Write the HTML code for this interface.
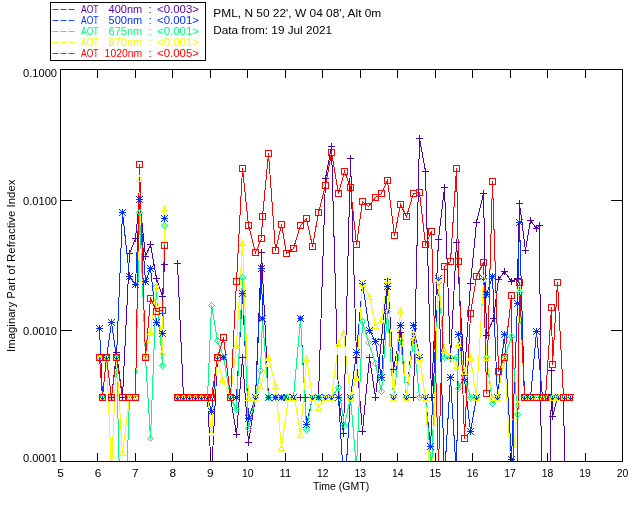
<!DOCTYPE html>
<html><head><meta charset="utf-8"><title>PML Imaginary Refractive Index</title>
<style>
html,body{margin:0;padding:0;background:#fff;width:640px;height:512px;overflow:hidden}
svg{display:block}
text{font-family:'Liberation Sans',Arial,sans-serif;fill:#000}
</style></head><body>
<svg width="640" height="512" viewBox="0 0 640 512" shape-rendering="crispEdges">
<rect width="640" height="512" fill="#fff"/>
<defs><clipPath id="pc"><rect x="60" y="69" width="563" height="393"/></clipPath></defs>

<rect x="50.5" y="2.5" width="155" height="58" fill="none" stroke="#000"/>
<text x="51.5" y="12" font-size="11.5" textLength="24" lengthAdjust="spacingAndGlyphs" style="fill:#5500a0">---</text>
<g style="fill:#5500a0" font-size="11.5"><text x="81" y="13" textLength="17.6" lengthAdjust="spacingAndGlyphs" style="fill:#5500a0">AOT</text><text x="108.6" y="13" textLength="33.6" lengthAdjust="spacingAndGlyphs" style="fill:#5500a0">400nm</text><text x="148.5" y="13" style="fill:#5500a0">:</text><text x="157" y="13" textLength="42" lengthAdjust="spacingAndGlyphs" style="fill:#5500a0">&lt;0.003&gt;</text></g>
<text x="51.5" y="23" font-size="11.5" textLength="24" lengthAdjust="spacingAndGlyphs" style="fill:#0030ff">---</text>
<g style="fill:#0030ff" font-size="11.5"><text x="81" y="24" textLength="17.6" lengthAdjust="spacingAndGlyphs" style="fill:#0030ff">AOT</text><text x="108.6" y="24" textLength="33.6" lengthAdjust="spacingAndGlyphs" style="fill:#0030ff">500nm</text><text x="148.5" y="24" style="fill:#0030ff">:</text><text x="157" y="24" textLength="42" lengthAdjust="spacingAndGlyphs" style="fill:#0030ff">&lt;0.001&gt;</text></g>
<text x="51.5" y="34" font-size="11.5" textLength="24" lengthAdjust="spacingAndGlyphs" style="fill:#00ff80">---</text>
<g style="fill:#00ff80" font-size="11.5"><text x="81" y="35" textLength="17.6" lengthAdjust="spacingAndGlyphs" style="fill:#00ff80">AOT</text><text x="108.6" y="35" textLength="33.6" lengthAdjust="spacingAndGlyphs" style="fill:#00ff80">675nm</text><text x="148.5" y="35" style="fill:#00ff80">:</text><text x="157" y="35" textLength="42" lengthAdjust="spacingAndGlyphs" style="fill:#00ff80">&lt;0.001&gt;</text></g>
<text x="51.5" y="45" font-size="11.5" textLength="24" lengthAdjust="spacingAndGlyphs" style="fill:#f5ff00">---</text>
<g style="fill:#f5ff00" font-size="11.5"><text x="81" y="46" textLength="17.6" lengthAdjust="spacingAndGlyphs" style="fill:#f5ff00">AOT</text><text x="108.6" y="46" textLength="33.6" lengthAdjust="spacingAndGlyphs" style="fill:#f5ff00">870nm</text><text x="148.5" y="46" style="fill:#f5ff00">:</text><text x="157" y="46" textLength="42" lengthAdjust="spacingAndGlyphs" style="fill:#f5ff00">&lt;0.001&gt;</text></g>
<text x="51.5" y="56" font-size="11.5" textLength="24" lengthAdjust="spacingAndGlyphs" style="fill:#ff0000">---</text>
<g style="fill:#ff0000" font-size="11.5"><text x="81" y="57" textLength="17.6" lengthAdjust="spacingAndGlyphs" style="fill:#ff0000">AOT</text><text x="104.6" y="57" textLength="37.6" lengthAdjust="spacingAndGlyphs" style="fill:#ff0000">1020nm</text><text x="148.5" y="57" style="fill:#ff0000">:</text><text x="157" y="57" textLength="42" lengthAdjust="spacingAndGlyphs" style="fill:#ff0000">&lt;0.005&gt;</text></g>
<text x="213.3" y="17" font-size="11.5" textLength="168" lengthAdjust="spacingAndGlyphs">PML, N 50 22', W 04 08', Alt 0m</text>
<text x="213.3" y="34" font-size="11.5" textLength="118.8" lengthAdjust="spacingAndGlyphs">Data from: 19 Jul 2021</text>
<g clip-path="url(#pc)" shape-rendering="crispEdges" stroke-width="1">
<path d="M111.5 397.5 L116.5 352.5 L122.5 397.5 L129.5 253.5 L135.5 238.5 L139.5 199.5 L145.5 256.5 L150.5 244.5 L156.5 278.5 L162.5 296.5 L164.5 264.5M177.5 263.5 L183.5 397.5 L189.5 397.5 L195.5 397.5 L201.5 397.5 L207.5 397.5 L211.5 475.5 L217.5 357.5 L223.5 357.5 L230.5 397.5 L236.5 434.5 L242.5 357.5 L248.5 442.5 L255.5 397.5 L261.5 252.5 L268.5 397.5 L275.5 397.5 L281.5 397.5 L286.5 397.5 L293.5 397.5 L300.5 397.5 L305.5 397.5 L312.5 397.5 L318.5 397.5 L325.5 178.5 L331.5 146.5 L338.5 397.5 L343.5 433.5 L350.5 158.5 L356.5 357.5 L362.5 431.5 L369.5 357.5 L375.5 397.5 L381.5 339.5 L387.5 279.5 L393.5 369.5 L400.5 332.5 L406.5 397.5 L413.5 397.5 L419.5 138.5 L425.5 171.5 L431.5 397.5 L438.5 239.5 L444.5 187.5 L450.5 358.5 L456.5 242.5 L464.5 375.5 L470.5 283.5 L476.5 222.5 L483.5 193.5 L486.5 335.5 L493.5 318.5 L498.5 279.5 L504.5 271.5 L511.5 281.5 L517.5 278.5 L519.5 203.5 L525.5 250.5 L530.5 220.5 L536.5 228.5 L539.5 225.5 L542.5 620.5 L548.5 620.5 L551.5 370.5 L552.5 416.5 L557.5 397.5 L563.5 397.5 L567.5 620.5" stroke="#5500a0" fill="none"/>
<path d="M99.5 328.5 L102.5 397.5 L106.5 357.5 L111.5 322.5 L116.5 357.5 L122.5 212.5 L129.5 276.5 L135.5 284.5 L139.5 199.5 L145.5 281.5 L150.5 268.5 L156.5 322.5 L162.5 333.5 L164.5 218.5M177.5 397.5 L183.5 397.5 L189.5 397.5 L195.5 397.5 L201.5 397.5 L207.5 397.5 L211.5 411.5 L217.5 357.5 L223.5 357.5 L230.5 397.5 L236.5 397.5 L242.5 293.5 L248.5 418.5 L255.5 397.5 L261.5 268.5 L262.5 318.5 L268.5 397.5 L275.5 397.5 L281.5 397.5 L286.5 397.5 L293.5 397.5 L300.5 318.5 L306.5 424.5 L312.5 397.5 L318.5 397.5 L325.5 397.5 L331.5 397.5 L338.5 397.5 L344.5 495.5 L350.5 397.5 L356.5 352.5 L362.5 283.5 L369.5 330.5 L375.5 341.5 L381.5 377.5 L387.5 286.5 L393.5 397.5 L400.5 325.5 L406.5 397.5 L413.5 325.5 L419.5 357.5 L425.5 397.5 L430.5 446.5 L438.5 278.5 L444.5 476.5 L450.5 377.5 L456.5 476.5 L458.5 334.5 L464.5 379.5 L470.5 431.5 L476.5 397.5 L483.5 278.5 L486.5 294.5 L492.5 276.5 L497.5 397.5 L504.5 334.5 L511.5 459.5 L517.5 303.5 L519.5 222.5 L524.5 397.5 L530.5 397.5 L536.5 331.5 L542.5 397.5 L547.5 397.5 L552.5 397.5 L558.5 397.5 L564.5 397.5 L570.5 397.5" stroke="#0030ff" fill="none"/>
<path d="M99.5 357.5 L102.5 397.5 L106.5 357.5 L111.5 397.5 L116.5 357.5 L122.5 600.5 L129.5 397.5 L135.5 397.5 L139.5 212.5 L145.5 357.5 L150.5 438.5 L156.5 286.5 L162.5 365.5 L164.5 225.5M177.5 397.5 L183.5 397.5 L189.5 397.5 L195.5 397.5 L201.5 397.5 L207.5 397.5 L211.5 305.5 L217.5 340.5 L223.5 357.5 L230.5 397.5 L236.5 409.5 L242.5 277.5 L248.5 428.5 L255.5 397.5 L260.5 370.5 L262.5 318.5 L268.5 397.5 L275.5 397.5 L281.5 397.5 L286.5 397.5 L293.5 397.5 L300.5 318.5 L306.5 429.5 L312.5 397.5 L318.5 397.5 L325.5 397.5 L331.5 397.5 L338.5 387.5 L344.5 425.5 L350.5 397.5 L356.5 468.5 L362.5 321.5 L368.5 342.5 L375.5 363.5 L381.5 391.5 L387.5 311.5 L393.5 397.5 L400.5 340.5 L406.5 397.5 L413.5 339.5 L419.5 397.5 L425.5 397.5 L431.5 470.5 L438.5 282.5 L444.5 357.5 L450.5 357.5 L456.5 357.5 L458.5 388.5 L464.5 376.5 L470.5 397.5 L476.5 397.5 L483.5 279.5 L486.5 357.5 L492.5 403.5 L497.5 397.5 L504.5 357.5 L511.5 336.5 L517.5 414.5 L519.5 292.5 L524.5 397.5 L530.5 397.5 L536.5 397.5 L542.5 397.5 L547.5 397.5 L552.5 397.5 L558.5 397.5 L564.5 397.5 L570.5 397.5" stroke="#00ff80" fill="none"/>
<path d="M99.5 357.5 L102.5 397.5 L106.5 357.5 L111.5 470.5 L116.5 357.5 L122.5 452.5 L129.5 397.5 L135.5 397.5 L139.5 178.5 L145.5 357.5 L150.5 331.5 L156.5 286.5 L162.5 352.5 L164.5 208.5M177.5 397.5 L183.5 397.5 L189.5 397.5 L195.5 397.5 L201.5 397.5 L207.5 397.5 L211.5 432.5 L217.5 357.5 L222.5 379.5 L230.5 397.5 L236.5 344.5 L242.5 242.5 L248.5 397.5 L255.5 397.5 L260.5 386.5 L268.5 357.5 L275.5 385.5 L281.5 447.5 L288.5 397.5 L294.5 397.5 L300.5 434.5 L306.5 358.5 L312.5 397.5 L318.5 407.5 L325.5 397.5 L331.5 397.5 L338.5 343.5 L343.5 332.5 L350.5 397.5 L356.5 377.5 L362.5 283.5 L369.5 296.5 L375.5 325.5 L381.5 319.5 L387.5 279.5 L393.5 397.5 L400.5 310.5 L406.5 397.5 L413.5 332.5 L419.5 357.5 L425.5 397.5 L431.5 507.5 L438.5 278.5 L444.5 349.5 L450.5 356.5 L456.5 365.5 L458.5 343.5 L464.5 371.5 L470.5 357.5 L476.5 397.5 L483.5 278.5 L486.5 357.5 L492.5 397.5 L497.5 397.5 L504.5 357.5 L511.5 480.5 L517.5 402.5 L519.5 288.5 L524.5 397.5 L530.5 397.5 L536.5 397.5 L542.5 397.5 L547.5 397.5 L552.5 397.5 L558.5 397.5 L564.5 397.5 L570.5 397.5" stroke="#f5ff00" fill="none"/>
<path d="M99.5 357.5 L102.5 397.5 L106.5 357.5 L111.5 397.5 L116.5 357.5 L122.5 397.5 L129.5 397.5 L135.5 397.5 L139.5 164.5 L145.5 357.5 L150.5 298.5 L156.5 311.5 L162.5 310.5 L164.5 245.5M177.5 397.5 L183.5 397.5 L189.5 397.5 L195.5 397.5 L201.5 397.5 L207.5 397.5 L211.5 397.5 L217.5 357.5 L223.5 337.5 L230.5 397.5 L236.5 281.5 L242.5 168.5 L248.5 225.5 L255.5 252.5 L261.5 238.5 L262.5 216.5 L268.5 153.5 L275.5 250.5 L281.5 224.5 L286.5 253.5 L293.5 248.5 L300.5 225.5 L306.5 218.5 L312.5 246.5 L318.5 212.5 L325.5 185.5 L331.5 152.5 L338.5 193.5 L344.5 171.5 L350.5 187.5 L356.5 244.5 L362.5 201.5 L368.5 206.5 L375.5 197.5 L381.5 193.5 L387.5 180.5 L394.5 235.5 L400.5 204.5 L406.5 216.5 L413.5 193.5 L419.5 192.5 L425.5 244.5 L431.5 231.5 L438.5 466.5 L444.5 266.5 L450.5 261.5 L456.5 168.5 L458.5 261.5 L464.5 438.5 L470.5 313.5 L476.5 276.5 L483.5 262.5 L486.5 393.5 L492.5 181.5 L498.5 371.5 L504.5 357.5 L511.5 295.5 L515.5 620.5 L519.5 282.5 L524.5 397.5 L530.5 397.5 L536.5 397.5 L542.5 397.5 L545.5 397.5 L551.5 307.5 L552.5 364.5 L557.5 282.5 L563.5 397.5 L569.5 397.5" stroke="#ff0000" fill="none"/>
<path d="M111 394h1v1h-1zM111 395h1v1h-1zM111 396h1v1h-1zM108 397h7v1h-7zM111 398h1v1h-1zM111 399h1v1h-1zM111 400h1v1h-1zM116 349h1v1h-1zM116 350h1v1h-1zM116 351h1v1h-1zM113 352h7v1h-7zM116 353h1v1h-1zM116 354h1v1h-1zM116 355h1v1h-1zM122 394h1v1h-1zM122 395h1v1h-1zM122 396h1v1h-1zM119 397h7v1h-7zM122 398h1v1h-1zM122 399h1v1h-1zM122 400h1v1h-1zM129 250h1v1h-1zM129 251h1v1h-1zM129 252h1v1h-1zM126 253h7v1h-7zM129 254h1v1h-1zM129 255h1v1h-1zM129 256h1v1h-1zM135 235h1v1h-1zM135 236h1v1h-1zM135 237h1v1h-1zM132 238h7v1h-7zM135 239h1v1h-1zM135 240h1v1h-1zM135 241h1v1h-1zM139 196h1v1h-1zM139 197h1v1h-1zM139 198h1v1h-1zM136 199h7v1h-7zM139 200h1v1h-1zM139 201h1v1h-1zM139 202h1v1h-1zM145 253h1v1h-1zM145 254h1v1h-1zM145 255h1v1h-1zM142 256h7v1h-7zM145 257h1v1h-1zM145 258h1v1h-1zM145 259h1v1h-1zM150 241h1v1h-1zM150 242h1v1h-1zM150 243h1v1h-1zM147 244h7v1h-7zM150 245h1v1h-1zM150 246h1v1h-1zM150 247h1v1h-1zM156 275h1v1h-1zM156 276h1v1h-1zM156 277h1v1h-1zM153 278h7v1h-7zM156 279h1v1h-1zM156 280h1v1h-1zM156 281h1v1h-1zM162 293h1v1h-1zM162 294h1v1h-1zM162 295h1v1h-1zM159 296h7v1h-7zM162 297h1v1h-1zM162 298h1v1h-1zM162 299h1v1h-1zM164 261h1v1h-1zM164 262h1v1h-1zM164 263h1v1h-1zM161 264h7v1h-7zM164 265h1v1h-1zM164 266h1v1h-1zM164 267h1v1h-1zM177 260h1v1h-1zM177 261h1v1h-1zM177 262h1v1h-1zM174 263h7v1h-7zM177 264h1v1h-1zM177 265h1v1h-1zM177 266h1v1h-1zM183 394h1v1h-1zM183 395h1v1h-1zM183 396h1v1h-1zM180 397h7v1h-7zM183 398h1v1h-1zM183 399h1v1h-1zM183 400h1v1h-1zM189 394h1v1h-1zM189 395h1v1h-1zM189 396h1v1h-1zM186 397h7v1h-7zM189 398h1v1h-1zM189 399h1v1h-1zM189 400h1v1h-1zM195 394h1v1h-1zM195 395h1v1h-1zM195 396h1v1h-1zM192 397h7v1h-7zM195 398h1v1h-1zM195 399h1v1h-1zM195 400h1v1h-1zM201 394h1v1h-1zM201 395h1v1h-1zM201 396h1v1h-1zM198 397h7v1h-7zM201 398h1v1h-1zM201 399h1v1h-1zM201 400h1v1h-1zM207 394h1v1h-1zM207 395h1v1h-1zM207 396h1v1h-1zM204 397h7v1h-7zM207 398h1v1h-1zM207 399h1v1h-1zM207 400h1v1h-1zM217 354h1v1h-1zM217 355h1v1h-1zM217 356h1v1h-1zM214 357h7v1h-7zM217 358h1v1h-1zM217 359h1v1h-1zM217 360h1v1h-1zM223 354h1v1h-1zM223 355h1v1h-1zM223 356h1v1h-1zM220 357h7v1h-7zM223 358h1v1h-1zM223 359h1v1h-1zM223 360h1v1h-1zM230 394h1v1h-1zM230 395h1v1h-1zM230 396h1v1h-1zM227 397h7v1h-7zM230 398h1v1h-1zM230 399h1v1h-1zM230 400h1v1h-1zM236 431h1v1h-1zM236 432h1v1h-1zM236 433h1v1h-1zM233 434h7v1h-7zM236 435h1v1h-1zM236 436h1v1h-1zM236 437h1v1h-1zM242 354h1v1h-1zM242 355h1v1h-1zM242 356h1v1h-1zM239 357h7v1h-7zM242 358h1v1h-1zM242 359h1v1h-1zM242 360h1v1h-1zM248 439h1v1h-1zM248 440h1v1h-1zM248 441h1v1h-1zM245 442h7v1h-7zM248 443h1v1h-1zM248 444h1v1h-1zM248 445h1v1h-1zM255 394h1v1h-1zM255 395h1v1h-1zM255 396h1v1h-1zM252 397h7v1h-7zM255 398h1v1h-1zM255 399h1v1h-1zM255 400h1v1h-1zM261 249h1v1h-1zM261 250h1v1h-1zM261 251h1v1h-1zM258 252h7v1h-7zM261 253h1v1h-1zM261 254h1v1h-1zM261 255h1v1h-1zM268 394h1v1h-1zM268 395h1v1h-1zM268 396h1v1h-1zM265 397h7v1h-7zM268 398h1v1h-1zM268 399h1v1h-1zM268 400h1v1h-1zM275 394h1v1h-1zM275 395h1v1h-1zM275 396h1v1h-1zM272 397h7v1h-7zM275 398h1v1h-1zM275 399h1v1h-1zM275 400h1v1h-1zM281 394h1v1h-1zM281 395h1v1h-1zM281 396h1v1h-1zM278 397h7v1h-7zM281 398h1v1h-1zM281 399h1v1h-1zM281 400h1v1h-1zM286 394h1v1h-1zM286 395h1v1h-1zM286 396h1v1h-1zM283 397h7v1h-7zM286 398h1v1h-1zM286 399h1v1h-1zM286 400h1v1h-1zM293 394h1v1h-1zM293 395h1v1h-1zM293 396h1v1h-1zM290 397h7v1h-7zM293 398h1v1h-1zM293 399h1v1h-1zM293 400h1v1h-1zM300 394h1v1h-1zM300 395h1v1h-1zM300 396h1v1h-1zM297 397h7v1h-7zM300 398h1v1h-1zM300 399h1v1h-1zM300 400h1v1h-1zM305 394h1v1h-1zM305 395h1v1h-1zM305 396h1v1h-1zM302 397h7v1h-7zM305 398h1v1h-1zM305 399h1v1h-1zM305 400h1v1h-1zM312 394h1v1h-1zM312 395h1v1h-1zM312 396h1v1h-1zM309 397h7v1h-7zM312 398h1v1h-1zM312 399h1v1h-1zM312 400h1v1h-1zM318 394h1v1h-1zM318 395h1v1h-1zM318 396h1v1h-1zM315 397h7v1h-7zM318 398h1v1h-1zM318 399h1v1h-1zM318 400h1v1h-1zM325 175h1v1h-1zM325 176h1v1h-1zM325 177h1v1h-1zM322 178h7v1h-7zM325 179h1v1h-1zM325 180h1v1h-1zM325 181h1v1h-1zM331 143h1v1h-1zM331 144h1v1h-1zM331 145h1v1h-1zM328 146h7v1h-7zM331 147h1v1h-1zM331 148h1v1h-1zM331 149h1v1h-1zM338 394h1v1h-1zM338 395h1v1h-1zM338 396h1v1h-1zM335 397h7v1h-7zM338 398h1v1h-1zM338 399h1v1h-1zM338 400h1v1h-1zM343 430h1v1h-1zM343 431h1v1h-1zM343 432h1v1h-1zM340 433h7v1h-7zM343 434h1v1h-1zM343 435h1v1h-1zM343 436h1v1h-1zM350 155h1v1h-1zM350 156h1v1h-1zM350 157h1v1h-1zM347 158h7v1h-7zM350 159h1v1h-1zM350 160h1v1h-1zM350 161h1v1h-1zM356 354h1v1h-1zM356 355h1v1h-1zM356 356h1v1h-1zM353 357h7v1h-7zM356 358h1v1h-1zM356 359h1v1h-1zM356 360h1v1h-1zM362 428h1v1h-1zM362 429h1v1h-1zM362 430h1v1h-1zM359 431h7v1h-7zM362 432h1v1h-1zM362 433h1v1h-1zM362 434h1v1h-1zM369 354h1v1h-1zM369 355h1v1h-1zM369 356h1v1h-1zM366 357h7v1h-7zM369 358h1v1h-1zM369 359h1v1h-1zM369 360h1v1h-1zM375 394h1v1h-1zM375 395h1v1h-1zM375 396h1v1h-1zM372 397h7v1h-7zM375 398h1v1h-1zM375 399h1v1h-1zM375 400h1v1h-1zM381 336h1v1h-1zM381 337h1v1h-1zM381 338h1v1h-1zM378 339h7v1h-7zM381 340h1v1h-1zM381 341h1v1h-1zM381 342h1v1h-1zM387 276h1v1h-1zM387 277h1v1h-1zM387 278h1v1h-1zM384 279h7v1h-7zM387 280h1v1h-1zM387 281h1v1h-1zM387 282h1v1h-1zM393 366h1v1h-1zM393 367h1v1h-1zM393 368h1v1h-1zM390 369h7v1h-7zM393 370h1v1h-1zM393 371h1v1h-1zM393 372h1v1h-1zM400 329h1v1h-1zM400 330h1v1h-1zM400 331h1v1h-1zM397 332h7v1h-7zM400 333h1v1h-1zM400 334h1v1h-1zM400 335h1v1h-1zM406 394h1v1h-1zM406 395h1v1h-1zM406 396h1v1h-1zM403 397h7v1h-7zM406 398h1v1h-1zM406 399h1v1h-1zM406 400h1v1h-1zM413 394h1v1h-1zM413 395h1v1h-1zM413 396h1v1h-1zM410 397h7v1h-7zM413 398h1v1h-1zM413 399h1v1h-1zM413 400h1v1h-1zM419 135h1v1h-1zM419 136h1v1h-1zM419 137h1v1h-1zM416 138h7v1h-7zM419 139h1v1h-1zM419 140h1v1h-1zM419 141h1v1h-1zM425 168h1v1h-1zM425 169h1v1h-1zM425 170h1v1h-1zM422 171h7v1h-7zM425 172h1v1h-1zM425 173h1v1h-1zM425 174h1v1h-1zM431 394h1v1h-1zM431 395h1v1h-1zM431 396h1v1h-1zM428 397h7v1h-7zM431 398h1v1h-1zM431 399h1v1h-1zM431 400h1v1h-1zM438 236h1v1h-1zM438 237h1v1h-1zM438 238h1v1h-1zM435 239h7v1h-7zM438 240h1v1h-1zM438 241h1v1h-1zM438 242h1v1h-1zM444 184h1v1h-1zM444 185h1v1h-1zM444 186h1v1h-1zM441 187h7v1h-7zM444 188h1v1h-1zM444 189h1v1h-1zM444 190h1v1h-1zM450 355h1v1h-1zM450 356h1v1h-1zM450 357h1v1h-1zM447 358h7v1h-7zM450 359h1v1h-1zM450 360h1v1h-1zM450 361h1v1h-1zM456 239h1v1h-1zM456 240h1v1h-1zM456 241h1v1h-1zM453 242h7v1h-7zM456 243h1v1h-1zM456 244h1v1h-1zM456 245h1v1h-1zM464 372h1v1h-1zM464 373h1v1h-1zM464 374h1v1h-1zM461 375h7v1h-7zM464 376h1v1h-1zM464 377h1v1h-1zM464 378h1v1h-1zM470 280h1v1h-1zM470 281h1v1h-1zM470 282h1v1h-1zM467 283h7v1h-7zM470 284h1v1h-1zM470 285h1v1h-1zM470 286h1v1h-1zM476 219h1v1h-1zM476 220h1v1h-1zM476 221h1v1h-1zM473 222h7v1h-7zM476 223h1v1h-1zM476 224h1v1h-1zM476 225h1v1h-1zM483 190h1v1h-1zM483 191h1v1h-1zM483 192h1v1h-1zM480 193h7v1h-7zM483 194h1v1h-1zM483 195h1v1h-1zM483 196h1v1h-1zM486 332h1v1h-1zM486 333h1v1h-1zM486 334h1v1h-1zM483 335h7v1h-7zM486 336h1v1h-1zM486 337h1v1h-1zM486 338h1v1h-1zM493 315h1v1h-1zM493 316h1v1h-1zM493 317h1v1h-1zM490 318h7v1h-7zM493 319h1v1h-1zM493 320h1v1h-1zM493 321h1v1h-1zM498 276h1v1h-1zM498 277h1v1h-1zM498 278h1v1h-1zM495 279h7v1h-7zM498 280h1v1h-1zM498 281h1v1h-1zM498 282h1v1h-1zM504 268h1v1h-1zM504 269h1v1h-1zM504 270h1v1h-1zM501 271h7v1h-7zM504 272h1v1h-1zM504 273h1v1h-1zM504 274h1v1h-1zM511 278h1v1h-1zM511 279h1v1h-1zM511 280h1v1h-1zM508 281h7v1h-7zM511 282h1v1h-1zM511 283h1v1h-1zM511 284h1v1h-1zM517 275h1v1h-1zM517 276h1v1h-1zM517 277h1v1h-1zM514 278h7v1h-7zM517 279h1v1h-1zM517 280h1v1h-1zM517 281h1v1h-1zM519 200h1v1h-1zM519 201h1v1h-1zM519 202h1v1h-1zM516 203h7v1h-7zM519 204h1v1h-1zM519 205h1v1h-1zM519 206h1v1h-1zM525 247h1v1h-1zM525 248h1v1h-1zM525 249h1v1h-1zM522 250h7v1h-7zM525 251h1v1h-1zM525 252h1v1h-1zM525 253h1v1h-1zM530 217h1v1h-1zM530 218h1v1h-1zM530 219h1v1h-1zM527 220h7v1h-7zM530 221h1v1h-1zM530 222h1v1h-1zM530 223h1v1h-1zM536 225h1v1h-1zM536 226h1v1h-1zM536 227h1v1h-1zM533 228h7v1h-7zM536 229h1v1h-1zM536 230h1v1h-1zM536 231h1v1h-1zM539 222h1v1h-1zM539 223h1v1h-1zM539 224h1v1h-1zM536 225h7v1h-7zM539 226h1v1h-1zM539 227h1v1h-1zM539 228h1v1h-1zM551 367h1v1h-1zM551 368h1v1h-1zM551 369h1v1h-1zM548 370h7v1h-7zM551 371h1v1h-1zM551 372h1v1h-1zM551 373h1v1h-1zM552 413h1v1h-1zM552 414h1v1h-1zM552 415h1v1h-1zM549 416h7v1h-7zM552 417h1v1h-1zM552 418h1v1h-1zM552 419h1v1h-1zM557 394h1v1h-1zM557 395h1v1h-1zM557 396h1v1h-1zM554 397h7v1h-7zM557 398h1v1h-1zM557 399h1v1h-1zM557 400h1v1h-1zM563 394h1v1h-1zM563 395h1v1h-1zM563 396h1v1h-1zM560 397h7v1h-7zM563 398h1v1h-1zM563 399h1v1h-1zM563 400h1v1h-1z" fill="#5500a0"/>
<path d="M96 325h1v1h-1zM99 325h1v1h-1zM102 325h1v1h-1zM97 326h1v1h-1zM99 326h1v1h-1zM101 326h1v1h-1zM98 327h3v1h-3zM96 328h7v1h-7zM98 329h3v1h-3zM97 330h1v1h-1zM99 330h1v1h-1zM101 330h1v1h-1zM96 331h1v1h-1zM99 331h1v1h-1zM102 331h1v1h-1zM99 394h1v1h-1zM102 394h1v1h-1zM105 394h1v1h-1zM100 395h1v1h-1zM102 395h1v1h-1zM104 395h1v1h-1zM101 396h3v1h-3zM99 397h7v1h-7zM101 398h3v1h-3zM100 399h1v1h-1zM102 399h1v1h-1zM104 399h1v1h-1zM99 400h1v1h-1zM102 400h1v1h-1zM105 400h1v1h-1zM103 354h1v1h-1zM106 354h1v1h-1zM109 354h1v1h-1zM104 355h1v1h-1zM106 355h1v1h-1zM108 355h1v1h-1zM105 356h3v1h-3zM103 357h7v1h-7zM105 358h3v1h-3zM104 359h1v1h-1zM106 359h1v1h-1zM108 359h1v1h-1zM103 360h1v1h-1zM106 360h1v1h-1zM109 360h1v1h-1zM108 319h1v1h-1zM111 319h1v1h-1zM114 319h1v1h-1zM109 320h1v1h-1zM111 320h1v1h-1zM113 320h1v1h-1zM110 321h3v1h-3zM108 322h7v1h-7zM110 323h3v1h-3zM109 324h1v1h-1zM111 324h1v1h-1zM113 324h1v1h-1zM108 325h1v1h-1zM111 325h1v1h-1zM114 325h1v1h-1zM113 354h1v1h-1zM116 354h1v1h-1zM119 354h1v1h-1zM114 355h1v1h-1zM116 355h1v1h-1zM118 355h1v1h-1zM115 356h3v1h-3zM113 357h7v1h-7zM115 358h3v1h-3zM114 359h1v1h-1zM116 359h1v1h-1zM118 359h1v1h-1zM113 360h1v1h-1zM116 360h1v1h-1zM119 360h1v1h-1zM119 209h1v1h-1zM122 209h1v1h-1zM125 209h1v1h-1zM120 210h1v1h-1zM122 210h1v1h-1zM124 210h1v1h-1zM121 211h3v1h-3zM119 212h7v1h-7zM121 213h3v1h-3zM120 214h1v1h-1zM122 214h1v1h-1zM124 214h1v1h-1zM119 215h1v1h-1zM122 215h1v1h-1zM125 215h1v1h-1zM126 273h1v1h-1zM129 273h1v1h-1zM132 273h1v1h-1zM127 274h1v1h-1zM129 274h1v1h-1zM131 274h1v1h-1zM128 275h3v1h-3zM126 276h7v1h-7zM128 277h3v1h-3zM127 278h1v1h-1zM129 278h1v1h-1zM131 278h1v1h-1zM126 279h1v1h-1zM129 279h1v1h-1zM132 279h1v1h-1zM132 281h1v1h-1zM135 281h1v1h-1zM138 281h1v1h-1zM133 282h1v1h-1zM135 282h1v1h-1zM137 282h1v1h-1zM134 283h3v1h-3zM132 284h7v1h-7zM134 285h3v1h-3zM133 286h1v1h-1zM135 286h1v1h-1zM137 286h1v1h-1zM132 287h1v1h-1zM135 287h1v1h-1zM138 287h1v1h-1zM136 196h1v1h-1zM139 196h1v1h-1zM142 196h1v1h-1zM137 197h1v1h-1zM139 197h1v1h-1zM141 197h1v1h-1zM138 198h3v1h-3zM136 199h7v1h-7zM138 200h3v1h-3zM137 201h1v1h-1zM139 201h1v1h-1zM141 201h1v1h-1zM136 202h1v1h-1zM139 202h1v1h-1zM142 202h1v1h-1zM142 278h1v1h-1zM145 278h1v1h-1zM148 278h1v1h-1zM143 279h1v1h-1zM145 279h1v1h-1zM147 279h1v1h-1zM144 280h3v1h-3zM142 281h7v1h-7zM144 282h3v1h-3zM143 283h1v1h-1zM145 283h1v1h-1zM147 283h1v1h-1zM142 284h1v1h-1zM145 284h1v1h-1zM148 284h1v1h-1zM147 265h1v1h-1zM150 265h1v1h-1zM153 265h1v1h-1zM148 266h1v1h-1zM150 266h1v1h-1zM152 266h1v1h-1zM149 267h3v1h-3zM147 268h7v1h-7zM149 269h3v1h-3zM148 270h1v1h-1zM150 270h1v1h-1zM152 270h1v1h-1zM147 271h1v1h-1zM150 271h1v1h-1zM153 271h1v1h-1zM153 319h1v1h-1zM156 319h1v1h-1zM159 319h1v1h-1zM154 320h1v1h-1zM156 320h1v1h-1zM158 320h1v1h-1zM155 321h3v1h-3zM153 322h7v1h-7zM155 323h3v1h-3zM154 324h1v1h-1zM156 324h1v1h-1zM158 324h1v1h-1zM153 325h1v1h-1zM156 325h1v1h-1zM159 325h1v1h-1zM159 330h1v1h-1zM162 330h1v1h-1zM165 330h1v1h-1zM160 331h1v1h-1zM162 331h1v1h-1zM164 331h1v1h-1zM161 332h3v1h-3zM159 333h7v1h-7zM161 334h3v1h-3zM160 335h1v1h-1zM162 335h1v1h-1zM164 335h1v1h-1zM159 336h1v1h-1zM162 336h1v1h-1zM165 336h1v1h-1zM161 215h1v1h-1zM164 215h1v1h-1zM167 215h1v1h-1zM162 216h1v1h-1zM164 216h1v1h-1zM166 216h1v1h-1zM163 217h3v1h-3zM161 218h7v1h-7zM163 219h3v1h-3zM162 220h1v1h-1zM164 220h1v1h-1zM166 220h1v1h-1zM161 221h1v1h-1zM164 221h1v1h-1zM167 221h1v1h-1zM174 394h1v1h-1zM177 394h1v1h-1zM180 394h1v1h-1zM175 395h1v1h-1zM177 395h1v1h-1zM179 395h1v1h-1zM176 396h3v1h-3zM174 397h7v1h-7zM176 398h3v1h-3zM175 399h1v1h-1zM177 399h1v1h-1zM179 399h1v1h-1zM174 400h1v1h-1zM177 400h1v1h-1zM180 400h1v1h-1zM180 394h1v1h-1zM183 394h1v1h-1zM186 394h1v1h-1zM181 395h1v1h-1zM183 395h1v1h-1zM185 395h1v1h-1zM182 396h3v1h-3zM180 397h7v1h-7zM182 398h3v1h-3zM181 399h1v1h-1zM183 399h1v1h-1zM185 399h1v1h-1zM180 400h1v1h-1zM183 400h1v1h-1zM186 400h1v1h-1zM186 394h1v1h-1zM189 394h1v1h-1zM192 394h1v1h-1zM187 395h1v1h-1zM189 395h1v1h-1zM191 395h1v1h-1zM188 396h3v1h-3zM186 397h7v1h-7zM188 398h3v1h-3zM187 399h1v1h-1zM189 399h1v1h-1zM191 399h1v1h-1zM186 400h1v1h-1zM189 400h1v1h-1zM192 400h1v1h-1zM192 394h1v1h-1zM195 394h1v1h-1zM198 394h1v1h-1zM193 395h1v1h-1zM195 395h1v1h-1zM197 395h1v1h-1zM194 396h3v1h-3zM192 397h7v1h-7zM194 398h3v1h-3zM193 399h1v1h-1zM195 399h1v1h-1zM197 399h1v1h-1zM192 400h1v1h-1zM195 400h1v1h-1zM198 400h1v1h-1zM198 394h1v1h-1zM201 394h1v1h-1zM204 394h1v1h-1zM199 395h1v1h-1zM201 395h1v1h-1zM203 395h1v1h-1zM200 396h3v1h-3zM198 397h7v1h-7zM200 398h3v1h-3zM199 399h1v1h-1zM201 399h1v1h-1zM203 399h1v1h-1zM198 400h1v1h-1zM201 400h1v1h-1zM204 400h1v1h-1zM204 394h1v1h-1zM207 394h1v1h-1zM210 394h1v1h-1zM205 395h1v1h-1zM207 395h1v1h-1zM209 395h1v1h-1zM206 396h3v1h-3zM204 397h7v1h-7zM206 398h3v1h-3zM205 399h1v1h-1zM207 399h1v1h-1zM209 399h1v1h-1zM204 400h1v1h-1zM207 400h1v1h-1zM210 400h1v1h-1zM208 408h1v1h-1zM211 408h1v1h-1zM214 408h1v1h-1zM209 409h1v1h-1zM211 409h1v1h-1zM213 409h1v1h-1zM210 410h3v1h-3zM208 411h7v1h-7zM210 412h3v1h-3zM209 413h1v1h-1zM211 413h1v1h-1zM213 413h1v1h-1zM208 414h1v1h-1zM211 414h1v1h-1zM214 414h1v1h-1zM214 354h1v1h-1zM217 354h1v1h-1zM220 354h1v1h-1zM215 355h1v1h-1zM217 355h1v1h-1zM219 355h1v1h-1zM216 356h3v1h-3zM214 357h7v1h-7zM216 358h3v1h-3zM215 359h1v1h-1zM217 359h1v1h-1zM219 359h1v1h-1zM214 360h1v1h-1zM217 360h1v1h-1zM220 360h1v1h-1zM220 354h1v1h-1zM223 354h1v1h-1zM226 354h1v1h-1zM221 355h1v1h-1zM223 355h1v1h-1zM225 355h1v1h-1zM222 356h3v1h-3zM220 357h7v1h-7zM222 358h3v1h-3zM221 359h1v1h-1zM223 359h1v1h-1zM225 359h1v1h-1zM220 360h1v1h-1zM223 360h1v1h-1zM226 360h1v1h-1zM227 394h1v1h-1zM230 394h1v1h-1zM233 394h1v1h-1zM228 395h1v1h-1zM230 395h1v1h-1zM232 395h1v1h-1zM229 396h3v1h-3zM227 397h7v1h-7zM229 398h3v1h-3zM228 399h1v1h-1zM230 399h1v1h-1zM232 399h1v1h-1zM227 400h1v1h-1zM230 400h1v1h-1zM233 400h1v1h-1zM233 394h1v1h-1zM236 394h1v1h-1zM239 394h1v1h-1zM234 395h1v1h-1zM236 395h1v1h-1zM238 395h1v1h-1zM235 396h3v1h-3zM233 397h7v1h-7zM235 398h3v1h-3zM234 399h1v1h-1zM236 399h1v1h-1zM238 399h1v1h-1zM233 400h1v1h-1zM236 400h1v1h-1zM239 400h1v1h-1zM239 290h1v1h-1zM242 290h1v1h-1zM245 290h1v1h-1zM240 291h1v1h-1zM242 291h1v1h-1zM244 291h1v1h-1zM241 292h3v1h-3zM239 293h7v1h-7zM241 294h3v1h-3zM240 295h1v1h-1zM242 295h1v1h-1zM244 295h1v1h-1zM239 296h1v1h-1zM242 296h1v1h-1zM245 296h1v1h-1zM245 415h1v1h-1zM248 415h1v1h-1zM251 415h1v1h-1zM246 416h1v1h-1zM248 416h1v1h-1zM250 416h1v1h-1zM247 417h3v1h-3zM245 418h7v1h-7zM247 419h3v1h-3zM246 420h1v1h-1zM248 420h1v1h-1zM250 420h1v1h-1zM245 421h1v1h-1zM248 421h1v1h-1zM251 421h1v1h-1zM252 394h1v1h-1zM255 394h1v1h-1zM258 394h1v1h-1zM253 395h1v1h-1zM255 395h1v1h-1zM257 395h1v1h-1zM254 396h3v1h-3zM252 397h7v1h-7zM254 398h3v1h-3zM253 399h1v1h-1zM255 399h1v1h-1zM257 399h1v1h-1zM252 400h1v1h-1zM255 400h1v1h-1zM258 400h1v1h-1zM258 265h1v1h-1zM261 265h1v1h-1zM264 265h1v1h-1zM259 266h1v1h-1zM261 266h1v1h-1zM263 266h1v1h-1zM260 267h3v1h-3zM258 268h7v1h-7zM260 269h3v1h-3zM259 270h1v1h-1zM261 270h1v1h-1zM263 270h1v1h-1zM258 271h1v1h-1zM261 271h1v1h-1zM264 271h1v1h-1zM259 315h1v1h-1zM262 315h1v1h-1zM265 315h1v1h-1zM260 316h1v1h-1zM262 316h1v1h-1zM264 316h1v1h-1zM261 317h3v1h-3zM259 318h7v1h-7zM261 319h3v1h-3zM260 320h1v1h-1zM262 320h1v1h-1zM264 320h1v1h-1zM259 321h1v1h-1zM262 321h1v1h-1zM265 321h1v1h-1zM265 394h1v1h-1zM268 394h1v1h-1zM271 394h1v1h-1zM266 395h1v1h-1zM268 395h1v1h-1zM270 395h1v1h-1zM267 396h3v1h-3zM265 397h7v1h-7zM267 398h3v1h-3zM266 399h1v1h-1zM268 399h1v1h-1zM270 399h1v1h-1zM265 400h1v1h-1zM268 400h1v1h-1zM271 400h1v1h-1zM272 394h1v1h-1zM275 394h1v1h-1zM278 394h1v1h-1zM273 395h1v1h-1zM275 395h1v1h-1zM277 395h1v1h-1zM274 396h3v1h-3zM272 397h7v1h-7zM274 398h3v1h-3zM273 399h1v1h-1zM275 399h1v1h-1zM277 399h1v1h-1zM272 400h1v1h-1zM275 400h1v1h-1zM278 400h1v1h-1zM278 394h1v1h-1zM281 394h1v1h-1zM284 394h1v1h-1zM279 395h1v1h-1zM281 395h1v1h-1zM283 395h1v1h-1zM280 396h3v1h-3zM278 397h7v1h-7zM280 398h3v1h-3zM279 399h1v1h-1zM281 399h1v1h-1zM283 399h1v1h-1zM278 400h1v1h-1zM281 400h1v1h-1zM284 400h1v1h-1zM283 394h1v1h-1zM286 394h1v1h-1zM289 394h1v1h-1zM284 395h1v1h-1zM286 395h1v1h-1zM288 395h1v1h-1zM285 396h3v1h-3zM283 397h7v1h-7zM285 398h3v1h-3zM284 399h1v1h-1zM286 399h1v1h-1zM288 399h1v1h-1zM283 400h1v1h-1zM286 400h1v1h-1zM289 400h1v1h-1zM290 394h1v1h-1zM293 394h1v1h-1zM296 394h1v1h-1zM291 395h1v1h-1zM293 395h1v1h-1zM295 395h1v1h-1zM292 396h3v1h-3zM290 397h7v1h-7zM292 398h3v1h-3zM291 399h1v1h-1zM293 399h1v1h-1zM295 399h1v1h-1zM290 400h1v1h-1zM293 400h1v1h-1zM296 400h1v1h-1zM297 315h1v1h-1zM300 315h1v1h-1zM303 315h1v1h-1zM298 316h1v1h-1zM300 316h1v1h-1zM302 316h1v1h-1zM299 317h3v1h-3zM297 318h7v1h-7zM299 319h3v1h-3zM298 320h1v1h-1zM300 320h1v1h-1zM302 320h1v1h-1zM297 321h1v1h-1zM300 321h1v1h-1zM303 321h1v1h-1zM303 421h1v1h-1zM306 421h1v1h-1zM309 421h1v1h-1zM304 422h1v1h-1zM306 422h1v1h-1zM308 422h1v1h-1zM305 423h3v1h-3zM303 424h7v1h-7zM305 425h3v1h-3zM304 426h1v1h-1zM306 426h1v1h-1zM308 426h1v1h-1zM303 427h1v1h-1zM306 427h1v1h-1zM309 427h1v1h-1zM309 394h1v1h-1zM312 394h1v1h-1zM315 394h1v1h-1zM310 395h1v1h-1zM312 395h1v1h-1zM314 395h1v1h-1zM311 396h3v1h-3zM309 397h7v1h-7zM311 398h3v1h-3zM310 399h1v1h-1zM312 399h1v1h-1zM314 399h1v1h-1zM309 400h1v1h-1zM312 400h1v1h-1zM315 400h1v1h-1zM315 394h1v1h-1zM318 394h1v1h-1zM321 394h1v1h-1zM316 395h1v1h-1zM318 395h1v1h-1zM320 395h1v1h-1zM317 396h3v1h-3zM315 397h7v1h-7zM317 398h3v1h-3zM316 399h1v1h-1zM318 399h1v1h-1zM320 399h1v1h-1zM315 400h1v1h-1zM318 400h1v1h-1zM321 400h1v1h-1zM322 394h1v1h-1zM325 394h1v1h-1zM328 394h1v1h-1zM323 395h1v1h-1zM325 395h1v1h-1zM327 395h1v1h-1zM324 396h3v1h-3zM322 397h7v1h-7zM324 398h3v1h-3zM323 399h1v1h-1zM325 399h1v1h-1zM327 399h1v1h-1zM322 400h1v1h-1zM325 400h1v1h-1zM328 400h1v1h-1zM328 394h1v1h-1zM331 394h1v1h-1zM334 394h1v1h-1zM329 395h1v1h-1zM331 395h1v1h-1zM333 395h1v1h-1zM330 396h3v1h-3zM328 397h7v1h-7zM330 398h3v1h-3zM329 399h1v1h-1zM331 399h1v1h-1zM333 399h1v1h-1zM328 400h1v1h-1zM331 400h1v1h-1zM334 400h1v1h-1zM335 394h1v1h-1zM338 394h1v1h-1zM341 394h1v1h-1zM336 395h1v1h-1zM338 395h1v1h-1zM340 395h1v1h-1zM337 396h3v1h-3zM335 397h7v1h-7zM337 398h3v1h-3zM336 399h1v1h-1zM338 399h1v1h-1zM340 399h1v1h-1zM335 400h1v1h-1zM338 400h1v1h-1zM341 400h1v1h-1zM347 394h1v1h-1zM350 394h1v1h-1zM353 394h1v1h-1zM348 395h1v1h-1zM350 395h1v1h-1zM352 395h1v1h-1zM349 396h3v1h-3zM347 397h7v1h-7zM349 398h3v1h-3zM348 399h1v1h-1zM350 399h1v1h-1zM352 399h1v1h-1zM347 400h1v1h-1zM350 400h1v1h-1zM353 400h1v1h-1zM353 349h1v1h-1zM356 349h1v1h-1zM359 349h1v1h-1zM354 350h1v1h-1zM356 350h1v1h-1zM358 350h1v1h-1zM355 351h3v1h-3zM353 352h7v1h-7zM355 353h3v1h-3zM354 354h1v1h-1zM356 354h1v1h-1zM358 354h1v1h-1zM353 355h1v1h-1zM356 355h1v1h-1zM359 355h1v1h-1zM359 280h1v1h-1zM362 280h1v1h-1zM365 280h1v1h-1zM360 281h1v1h-1zM362 281h1v1h-1zM364 281h1v1h-1zM361 282h3v1h-3zM359 283h7v1h-7zM361 284h3v1h-3zM360 285h1v1h-1zM362 285h1v1h-1zM364 285h1v1h-1zM359 286h1v1h-1zM362 286h1v1h-1zM365 286h1v1h-1zM366 327h1v1h-1zM369 327h1v1h-1zM372 327h1v1h-1zM367 328h1v1h-1zM369 328h1v1h-1zM371 328h1v1h-1zM368 329h3v1h-3zM366 330h7v1h-7zM368 331h3v1h-3zM367 332h1v1h-1zM369 332h1v1h-1zM371 332h1v1h-1zM366 333h1v1h-1zM369 333h1v1h-1zM372 333h1v1h-1zM372 338h1v1h-1zM375 338h1v1h-1zM378 338h1v1h-1zM373 339h1v1h-1zM375 339h1v1h-1zM377 339h1v1h-1zM374 340h3v1h-3zM372 341h7v1h-7zM374 342h3v1h-3zM373 343h1v1h-1zM375 343h1v1h-1zM377 343h1v1h-1zM372 344h1v1h-1zM375 344h1v1h-1zM378 344h1v1h-1zM378 374h1v1h-1zM381 374h1v1h-1zM384 374h1v1h-1zM379 375h1v1h-1zM381 375h1v1h-1zM383 375h1v1h-1zM380 376h3v1h-3zM378 377h7v1h-7zM380 378h3v1h-3zM379 379h1v1h-1zM381 379h1v1h-1zM383 379h1v1h-1zM378 380h1v1h-1zM381 380h1v1h-1zM384 380h1v1h-1zM384 283h1v1h-1zM387 283h1v1h-1zM390 283h1v1h-1zM385 284h1v1h-1zM387 284h1v1h-1zM389 284h1v1h-1zM386 285h3v1h-3zM384 286h7v1h-7zM386 287h3v1h-3zM385 288h1v1h-1zM387 288h1v1h-1zM389 288h1v1h-1zM384 289h1v1h-1zM387 289h1v1h-1zM390 289h1v1h-1zM390 394h1v1h-1zM393 394h1v1h-1zM396 394h1v1h-1zM391 395h1v1h-1zM393 395h1v1h-1zM395 395h1v1h-1zM392 396h3v1h-3zM390 397h7v1h-7zM392 398h3v1h-3zM391 399h1v1h-1zM393 399h1v1h-1zM395 399h1v1h-1zM390 400h1v1h-1zM393 400h1v1h-1zM396 400h1v1h-1zM397 322h1v1h-1zM400 322h1v1h-1zM403 322h1v1h-1zM398 323h1v1h-1zM400 323h1v1h-1zM402 323h1v1h-1zM399 324h3v1h-3zM397 325h7v1h-7zM399 326h3v1h-3zM398 327h1v1h-1zM400 327h1v1h-1zM402 327h1v1h-1zM397 328h1v1h-1zM400 328h1v1h-1zM403 328h1v1h-1zM403 394h1v1h-1zM406 394h1v1h-1zM409 394h1v1h-1zM404 395h1v1h-1zM406 395h1v1h-1zM408 395h1v1h-1zM405 396h3v1h-3zM403 397h7v1h-7zM405 398h3v1h-3zM404 399h1v1h-1zM406 399h1v1h-1zM408 399h1v1h-1zM403 400h1v1h-1zM406 400h1v1h-1zM409 400h1v1h-1zM410 322h1v1h-1zM413 322h1v1h-1zM416 322h1v1h-1zM411 323h1v1h-1zM413 323h1v1h-1zM415 323h1v1h-1zM412 324h3v1h-3zM410 325h7v1h-7zM412 326h3v1h-3zM411 327h1v1h-1zM413 327h1v1h-1zM415 327h1v1h-1zM410 328h1v1h-1zM413 328h1v1h-1zM416 328h1v1h-1zM416 354h1v1h-1zM419 354h1v1h-1zM422 354h1v1h-1zM417 355h1v1h-1zM419 355h1v1h-1zM421 355h1v1h-1zM418 356h3v1h-3zM416 357h7v1h-7zM418 358h3v1h-3zM417 359h1v1h-1zM419 359h1v1h-1zM421 359h1v1h-1zM416 360h1v1h-1zM419 360h1v1h-1zM422 360h1v1h-1zM422 394h1v1h-1zM425 394h1v1h-1zM428 394h1v1h-1zM423 395h1v1h-1zM425 395h1v1h-1zM427 395h1v1h-1zM424 396h3v1h-3zM422 397h7v1h-7zM424 398h3v1h-3zM423 399h1v1h-1zM425 399h1v1h-1zM427 399h1v1h-1zM422 400h1v1h-1zM425 400h1v1h-1zM428 400h1v1h-1zM427 443h1v1h-1zM430 443h1v1h-1zM433 443h1v1h-1zM428 444h1v1h-1zM430 444h1v1h-1zM432 444h1v1h-1zM429 445h3v1h-3zM427 446h7v1h-7zM429 447h3v1h-3zM428 448h1v1h-1zM430 448h1v1h-1zM432 448h1v1h-1zM427 449h1v1h-1zM430 449h1v1h-1zM433 449h1v1h-1zM435 275h1v1h-1zM438 275h1v1h-1zM441 275h1v1h-1zM436 276h1v1h-1zM438 276h1v1h-1zM440 276h1v1h-1zM437 277h3v1h-3zM435 278h7v1h-7zM437 279h3v1h-3zM436 280h1v1h-1zM438 280h1v1h-1zM440 280h1v1h-1zM435 281h1v1h-1zM438 281h1v1h-1zM441 281h1v1h-1zM447 374h1v1h-1zM450 374h1v1h-1zM453 374h1v1h-1zM448 375h1v1h-1zM450 375h1v1h-1zM452 375h1v1h-1zM449 376h3v1h-3zM447 377h7v1h-7zM449 378h3v1h-3zM448 379h1v1h-1zM450 379h1v1h-1zM452 379h1v1h-1zM447 380h1v1h-1zM450 380h1v1h-1zM453 380h1v1h-1zM455 331h1v1h-1zM458 331h1v1h-1zM461 331h1v1h-1zM456 332h1v1h-1zM458 332h1v1h-1zM460 332h1v1h-1zM457 333h3v1h-3zM455 334h7v1h-7zM457 335h3v1h-3zM456 336h1v1h-1zM458 336h1v1h-1zM460 336h1v1h-1zM455 337h1v1h-1zM458 337h1v1h-1zM461 337h1v1h-1zM461 376h1v1h-1zM464 376h1v1h-1zM467 376h1v1h-1zM462 377h1v1h-1zM464 377h1v1h-1zM466 377h1v1h-1zM463 378h3v1h-3zM461 379h7v1h-7zM463 380h3v1h-3zM462 381h1v1h-1zM464 381h1v1h-1zM466 381h1v1h-1zM461 382h1v1h-1zM464 382h1v1h-1zM467 382h1v1h-1zM467 428h1v1h-1zM470 428h1v1h-1zM473 428h1v1h-1zM468 429h1v1h-1zM470 429h1v1h-1zM472 429h1v1h-1zM469 430h3v1h-3zM467 431h7v1h-7zM469 432h3v1h-3zM468 433h1v1h-1zM470 433h1v1h-1zM472 433h1v1h-1zM467 434h1v1h-1zM470 434h1v1h-1zM473 434h1v1h-1zM473 394h1v1h-1zM476 394h1v1h-1zM479 394h1v1h-1zM474 395h1v1h-1zM476 395h1v1h-1zM478 395h1v1h-1zM475 396h3v1h-3zM473 397h7v1h-7zM475 398h3v1h-3zM474 399h1v1h-1zM476 399h1v1h-1zM478 399h1v1h-1zM473 400h1v1h-1zM476 400h1v1h-1zM479 400h1v1h-1zM480 275h1v1h-1zM483 275h1v1h-1zM486 275h1v1h-1zM481 276h1v1h-1zM483 276h1v1h-1zM485 276h1v1h-1zM482 277h3v1h-3zM480 278h7v1h-7zM482 279h3v1h-3zM481 280h1v1h-1zM483 280h1v1h-1zM485 280h1v1h-1zM480 281h1v1h-1zM483 281h1v1h-1zM486 281h1v1h-1zM483 291h1v1h-1zM486 291h1v1h-1zM489 291h1v1h-1zM484 292h1v1h-1zM486 292h1v1h-1zM488 292h1v1h-1zM485 293h3v1h-3zM483 294h7v1h-7zM485 295h3v1h-3zM484 296h1v1h-1zM486 296h1v1h-1zM488 296h1v1h-1zM483 297h1v1h-1zM486 297h1v1h-1zM489 297h1v1h-1zM489 273h1v1h-1zM492 273h1v1h-1zM495 273h1v1h-1zM490 274h1v1h-1zM492 274h1v1h-1zM494 274h1v1h-1zM491 275h3v1h-3zM489 276h7v1h-7zM491 277h3v1h-3zM490 278h1v1h-1zM492 278h1v1h-1zM494 278h1v1h-1zM489 279h1v1h-1zM492 279h1v1h-1zM495 279h1v1h-1zM494 394h1v1h-1zM497 394h1v1h-1zM500 394h1v1h-1zM495 395h1v1h-1zM497 395h1v1h-1zM499 395h1v1h-1zM496 396h3v1h-3zM494 397h7v1h-7zM496 398h3v1h-3zM495 399h1v1h-1zM497 399h1v1h-1zM499 399h1v1h-1zM494 400h1v1h-1zM497 400h1v1h-1zM500 400h1v1h-1zM501 331h1v1h-1zM504 331h1v1h-1zM507 331h1v1h-1zM502 332h1v1h-1zM504 332h1v1h-1zM506 332h1v1h-1zM503 333h3v1h-3zM501 334h7v1h-7zM503 335h3v1h-3zM502 336h1v1h-1zM504 336h1v1h-1zM506 336h1v1h-1zM501 337h1v1h-1zM504 337h1v1h-1zM507 337h1v1h-1zM508 456h1v1h-1zM511 456h1v1h-1zM514 456h1v1h-1zM509 457h1v1h-1zM511 457h1v1h-1zM513 457h1v1h-1zM510 458h3v1h-3zM508 459h7v1h-7zM510 460h3v1h-3zM509 461h1v1h-1zM511 461h1v1h-1zM513 461h1v1h-1zM508 462h1v1h-1zM511 462h1v1h-1zM514 462h1v1h-1zM514 300h1v1h-1zM517 300h1v1h-1zM520 300h1v1h-1zM515 301h1v1h-1zM517 301h1v1h-1zM519 301h1v1h-1zM516 302h3v1h-3zM514 303h7v1h-7zM516 304h3v1h-3zM515 305h1v1h-1zM517 305h1v1h-1zM519 305h1v1h-1zM514 306h1v1h-1zM517 306h1v1h-1zM520 306h1v1h-1zM516 219h1v1h-1zM519 219h1v1h-1zM522 219h1v1h-1zM517 220h1v1h-1zM519 220h1v1h-1zM521 220h1v1h-1zM518 221h3v1h-3zM516 222h7v1h-7zM518 223h3v1h-3zM517 224h1v1h-1zM519 224h1v1h-1zM521 224h1v1h-1zM516 225h1v1h-1zM519 225h1v1h-1zM522 225h1v1h-1zM521 394h1v1h-1zM524 394h1v1h-1zM527 394h1v1h-1zM522 395h1v1h-1zM524 395h1v1h-1zM526 395h1v1h-1zM523 396h3v1h-3zM521 397h7v1h-7zM523 398h3v1h-3zM522 399h1v1h-1zM524 399h1v1h-1zM526 399h1v1h-1zM521 400h1v1h-1zM524 400h1v1h-1zM527 400h1v1h-1zM527 394h1v1h-1zM530 394h1v1h-1zM533 394h1v1h-1zM528 395h1v1h-1zM530 395h1v1h-1zM532 395h1v1h-1zM529 396h3v1h-3zM527 397h7v1h-7zM529 398h3v1h-3zM528 399h1v1h-1zM530 399h1v1h-1zM532 399h1v1h-1zM527 400h1v1h-1zM530 400h1v1h-1zM533 400h1v1h-1zM533 328h1v1h-1zM536 328h1v1h-1zM539 328h1v1h-1zM534 329h1v1h-1zM536 329h1v1h-1zM538 329h1v1h-1zM535 330h3v1h-3zM533 331h7v1h-7zM535 332h3v1h-3zM534 333h1v1h-1zM536 333h1v1h-1zM538 333h1v1h-1zM533 334h1v1h-1zM536 334h1v1h-1zM539 334h1v1h-1zM539 394h1v1h-1zM542 394h1v1h-1zM545 394h1v1h-1zM540 395h1v1h-1zM542 395h1v1h-1zM544 395h1v1h-1zM541 396h3v1h-3zM539 397h7v1h-7zM541 398h3v1h-3zM540 399h1v1h-1zM542 399h1v1h-1zM544 399h1v1h-1zM539 400h1v1h-1zM542 400h1v1h-1zM545 400h1v1h-1zM544 394h1v1h-1zM547 394h1v1h-1zM550 394h1v1h-1zM545 395h1v1h-1zM547 395h1v1h-1zM549 395h1v1h-1zM546 396h3v1h-3zM544 397h7v1h-7zM546 398h3v1h-3zM545 399h1v1h-1zM547 399h1v1h-1zM549 399h1v1h-1zM544 400h1v1h-1zM547 400h1v1h-1zM550 400h1v1h-1zM549 394h1v1h-1zM552 394h1v1h-1zM555 394h1v1h-1zM550 395h1v1h-1zM552 395h1v1h-1zM554 395h1v1h-1zM551 396h3v1h-3zM549 397h7v1h-7zM551 398h3v1h-3zM550 399h1v1h-1zM552 399h1v1h-1zM554 399h1v1h-1zM549 400h1v1h-1zM552 400h1v1h-1zM555 400h1v1h-1zM555 394h1v1h-1zM558 394h1v1h-1zM561 394h1v1h-1zM556 395h1v1h-1zM558 395h1v1h-1zM560 395h1v1h-1zM557 396h3v1h-3zM555 397h7v1h-7zM557 398h3v1h-3zM556 399h1v1h-1zM558 399h1v1h-1zM560 399h1v1h-1zM555 400h1v1h-1zM558 400h1v1h-1zM561 400h1v1h-1zM561 394h1v1h-1zM564 394h1v1h-1zM567 394h1v1h-1zM562 395h1v1h-1zM564 395h1v1h-1zM566 395h1v1h-1zM563 396h3v1h-3zM561 397h7v1h-7zM563 398h3v1h-3zM562 399h1v1h-1zM564 399h1v1h-1zM566 399h1v1h-1zM561 400h1v1h-1zM564 400h1v1h-1zM567 400h1v1h-1zM567 394h1v1h-1zM570 394h1v1h-1zM573 394h1v1h-1zM568 395h1v1h-1zM570 395h1v1h-1zM572 395h1v1h-1zM569 396h3v1h-3zM567 397h7v1h-7zM569 398h3v1h-3zM568 399h1v1h-1zM570 399h1v1h-1zM572 399h1v1h-1zM567 400h1v1h-1zM570 400h1v1h-1zM573 400h1v1h-1z" fill="#0030ff"/>
<path d="M99 354h1v1h-1zM98 355h1v1h-1zM100 355h1v1h-1zM97 356h1v1h-1zM101 356h1v1h-1zM96 357h1v1h-1zM102 357h1v1h-1zM97 358h1v1h-1zM101 358h1v1h-1zM98 359h1v1h-1zM100 359h1v1h-1zM99 360h1v1h-1zM102 394h1v1h-1zM101 395h1v1h-1zM103 395h1v1h-1zM100 396h1v1h-1zM104 396h1v1h-1zM99 397h1v1h-1zM105 397h1v1h-1zM100 398h1v1h-1zM104 398h1v1h-1zM101 399h1v1h-1zM103 399h1v1h-1zM102 400h1v1h-1zM106 354h1v1h-1zM105 355h1v1h-1zM107 355h1v1h-1zM104 356h1v1h-1zM108 356h1v1h-1zM103 357h1v1h-1zM109 357h1v1h-1zM104 358h1v1h-1zM108 358h1v1h-1zM105 359h1v1h-1zM107 359h1v1h-1zM106 360h1v1h-1zM111 394h1v1h-1zM110 395h1v1h-1zM112 395h1v1h-1zM109 396h1v1h-1zM113 396h1v1h-1zM108 397h1v1h-1zM114 397h1v1h-1zM109 398h1v1h-1zM113 398h1v1h-1zM110 399h1v1h-1zM112 399h1v1h-1zM111 400h1v1h-1zM116 354h1v1h-1zM115 355h1v1h-1zM117 355h1v1h-1zM114 356h1v1h-1zM118 356h1v1h-1zM113 357h1v1h-1zM119 357h1v1h-1zM114 358h1v1h-1zM118 358h1v1h-1zM115 359h1v1h-1zM117 359h1v1h-1zM116 360h1v1h-1zM129 394h1v1h-1zM128 395h1v1h-1zM130 395h1v1h-1zM127 396h1v1h-1zM131 396h1v1h-1zM126 397h1v1h-1zM132 397h1v1h-1zM127 398h1v1h-1zM131 398h1v1h-1zM128 399h1v1h-1zM130 399h1v1h-1zM129 400h1v1h-1zM135 394h1v1h-1zM134 395h1v1h-1zM136 395h1v1h-1zM133 396h1v1h-1zM137 396h1v1h-1zM132 397h1v1h-1zM138 397h1v1h-1zM133 398h1v1h-1zM137 398h1v1h-1zM134 399h1v1h-1zM136 399h1v1h-1zM135 400h1v1h-1zM139 209h1v1h-1zM138 210h1v1h-1zM140 210h1v1h-1zM137 211h1v1h-1zM141 211h1v1h-1zM136 212h1v1h-1zM142 212h1v1h-1zM137 213h1v1h-1zM141 213h1v1h-1zM138 214h1v1h-1zM140 214h1v1h-1zM139 215h1v1h-1zM145 354h1v1h-1zM144 355h1v1h-1zM146 355h1v1h-1zM143 356h1v1h-1zM147 356h1v1h-1zM142 357h1v1h-1zM148 357h1v1h-1zM143 358h1v1h-1zM147 358h1v1h-1zM144 359h1v1h-1zM146 359h1v1h-1zM145 360h1v1h-1zM150 435h1v1h-1zM149 436h1v1h-1zM151 436h1v1h-1zM148 437h1v1h-1zM152 437h1v1h-1zM147 438h1v1h-1zM153 438h1v1h-1zM148 439h1v1h-1zM152 439h1v1h-1zM149 440h1v1h-1zM151 440h1v1h-1zM150 441h1v1h-1zM156 283h1v1h-1zM155 284h1v1h-1zM157 284h1v1h-1zM154 285h1v1h-1zM158 285h1v1h-1zM153 286h1v1h-1zM159 286h1v1h-1zM154 287h1v1h-1zM158 287h1v1h-1zM155 288h1v1h-1zM157 288h1v1h-1zM156 289h1v1h-1zM162 362h1v1h-1zM161 363h1v1h-1zM163 363h1v1h-1zM160 364h1v1h-1zM164 364h1v1h-1zM159 365h1v1h-1zM165 365h1v1h-1zM160 366h1v1h-1zM164 366h1v1h-1zM161 367h1v1h-1zM163 367h1v1h-1zM162 368h1v1h-1zM164 222h1v1h-1zM163 223h1v1h-1zM165 223h1v1h-1zM162 224h1v1h-1zM166 224h1v1h-1zM161 225h1v1h-1zM167 225h1v1h-1zM162 226h1v1h-1zM166 226h1v1h-1zM163 227h1v1h-1zM165 227h1v1h-1zM164 228h1v1h-1zM177 394h1v1h-1zM176 395h1v1h-1zM178 395h1v1h-1zM175 396h1v1h-1zM179 396h1v1h-1zM174 397h1v1h-1zM180 397h1v1h-1zM175 398h1v1h-1zM179 398h1v1h-1zM176 399h1v1h-1zM178 399h1v1h-1zM177 400h1v1h-1zM183 394h1v1h-1zM182 395h1v1h-1zM184 395h1v1h-1zM181 396h1v1h-1zM185 396h1v1h-1zM180 397h1v1h-1zM186 397h1v1h-1zM181 398h1v1h-1zM185 398h1v1h-1zM182 399h1v1h-1zM184 399h1v1h-1zM183 400h1v1h-1zM189 394h1v1h-1zM188 395h1v1h-1zM190 395h1v1h-1zM187 396h1v1h-1zM191 396h1v1h-1zM186 397h1v1h-1zM192 397h1v1h-1zM187 398h1v1h-1zM191 398h1v1h-1zM188 399h1v1h-1zM190 399h1v1h-1zM189 400h1v1h-1zM195 394h1v1h-1zM194 395h1v1h-1zM196 395h1v1h-1zM193 396h1v1h-1zM197 396h1v1h-1zM192 397h1v1h-1zM198 397h1v1h-1zM193 398h1v1h-1zM197 398h1v1h-1zM194 399h1v1h-1zM196 399h1v1h-1zM195 400h1v1h-1zM201 394h1v1h-1zM200 395h1v1h-1zM202 395h1v1h-1zM199 396h1v1h-1zM203 396h1v1h-1zM198 397h1v1h-1zM204 397h1v1h-1zM199 398h1v1h-1zM203 398h1v1h-1zM200 399h1v1h-1zM202 399h1v1h-1zM201 400h1v1h-1zM207 394h1v1h-1zM206 395h1v1h-1zM208 395h1v1h-1zM205 396h1v1h-1zM209 396h1v1h-1zM204 397h1v1h-1zM210 397h1v1h-1zM205 398h1v1h-1zM209 398h1v1h-1zM206 399h1v1h-1zM208 399h1v1h-1zM207 400h1v1h-1zM211 302h1v1h-1zM210 303h1v1h-1zM212 303h1v1h-1zM209 304h1v1h-1zM213 304h1v1h-1zM208 305h1v1h-1zM214 305h1v1h-1zM209 306h1v1h-1zM213 306h1v1h-1zM210 307h1v1h-1zM212 307h1v1h-1zM211 308h1v1h-1zM217 337h1v1h-1zM216 338h1v1h-1zM218 338h1v1h-1zM215 339h1v1h-1zM219 339h1v1h-1zM214 340h1v1h-1zM220 340h1v1h-1zM215 341h1v1h-1zM219 341h1v1h-1zM216 342h1v1h-1zM218 342h1v1h-1zM217 343h1v1h-1zM223 354h1v1h-1zM222 355h1v1h-1zM224 355h1v1h-1zM221 356h1v1h-1zM225 356h1v1h-1zM220 357h1v1h-1zM226 357h1v1h-1zM221 358h1v1h-1zM225 358h1v1h-1zM222 359h1v1h-1zM224 359h1v1h-1zM223 360h1v1h-1zM230 394h1v1h-1zM229 395h1v1h-1zM231 395h1v1h-1zM228 396h1v1h-1zM232 396h1v1h-1zM227 397h1v1h-1zM233 397h1v1h-1zM228 398h1v1h-1zM232 398h1v1h-1zM229 399h1v1h-1zM231 399h1v1h-1zM230 400h1v1h-1zM236 406h1v1h-1zM235 407h1v1h-1zM237 407h1v1h-1zM234 408h1v1h-1zM238 408h1v1h-1zM233 409h1v1h-1zM239 409h1v1h-1zM234 410h1v1h-1zM238 410h1v1h-1zM235 411h1v1h-1zM237 411h1v1h-1zM236 412h1v1h-1zM242 274h1v1h-1zM241 275h1v1h-1zM243 275h1v1h-1zM240 276h1v1h-1zM244 276h1v1h-1zM239 277h1v1h-1zM245 277h1v1h-1zM240 278h1v1h-1zM244 278h1v1h-1zM241 279h1v1h-1zM243 279h1v1h-1zM242 280h1v1h-1zM248 425h1v1h-1zM247 426h1v1h-1zM249 426h1v1h-1zM246 427h1v1h-1zM250 427h1v1h-1zM245 428h1v1h-1zM251 428h1v1h-1zM246 429h1v1h-1zM250 429h1v1h-1zM247 430h1v1h-1zM249 430h1v1h-1zM248 431h1v1h-1zM255 394h1v1h-1zM254 395h1v1h-1zM256 395h1v1h-1zM253 396h1v1h-1zM257 396h1v1h-1zM252 397h1v1h-1zM258 397h1v1h-1zM253 398h1v1h-1zM257 398h1v1h-1zM254 399h1v1h-1zM256 399h1v1h-1zM255 400h1v1h-1zM260 367h1v1h-1zM259 368h1v1h-1zM261 368h1v1h-1zM258 369h1v1h-1zM262 369h1v1h-1zM257 370h1v1h-1zM263 370h1v1h-1zM258 371h1v1h-1zM262 371h1v1h-1zM259 372h1v1h-1zM261 372h1v1h-1zM260 373h1v1h-1zM262 315h1v1h-1zM261 316h1v1h-1zM263 316h1v1h-1zM260 317h1v1h-1zM264 317h1v1h-1zM259 318h1v1h-1zM265 318h1v1h-1zM260 319h1v1h-1zM264 319h1v1h-1zM261 320h1v1h-1zM263 320h1v1h-1zM262 321h1v1h-1zM268 394h1v1h-1zM267 395h1v1h-1zM269 395h1v1h-1zM266 396h1v1h-1zM270 396h1v1h-1zM265 397h1v1h-1zM271 397h1v1h-1zM266 398h1v1h-1zM270 398h1v1h-1zM267 399h1v1h-1zM269 399h1v1h-1zM268 400h1v1h-1zM275 394h1v1h-1zM274 395h1v1h-1zM276 395h1v1h-1zM273 396h1v1h-1zM277 396h1v1h-1zM272 397h1v1h-1zM278 397h1v1h-1zM273 398h1v1h-1zM277 398h1v1h-1zM274 399h1v1h-1zM276 399h1v1h-1zM275 400h1v1h-1zM281 394h1v1h-1zM280 395h1v1h-1zM282 395h1v1h-1zM279 396h1v1h-1zM283 396h1v1h-1zM278 397h1v1h-1zM284 397h1v1h-1zM279 398h1v1h-1zM283 398h1v1h-1zM280 399h1v1h-1zM282 399h1v1h-1zM281 400h1v1h-1zM286 394h1v1h-1zM285 395h1v1h-1zM287 395h1v1h-1zM284 396h1v1h-1zM288 396h1v1h-1zM283 397h1v1h-1zM289 397h1v1h-1zM284 398h1v1h-1zM288 398h1v1h-1zM285 399h1v1h-1zM287 399h1v1h-1zM286 400h1v1h-1zM293 394h1v1h-1zM292 395h1v1h-1zM294 395h1v1h-1zM291 396h1v1h-1zM295 396h1v1h-1zM290 397h1v1h-1zM296 397h1v1h-1zM291 398h1v1h-1zM295 398h1v1h-1zM292 399h1v1h-1zM294 399h1v1h-1zM293 400h1v1h-1zM300 315h1v1h-1zM299 316h1v1h-1zM301 316h1v1h-1zM298 317h1v1h-1zM302 317h1v1h-1zM297 318h1v1h-1zM303 318h1v1h-1zM298 319h1v1h-1zM302 319h1v1h-1zM299 320h1v1h-1zM301 320h1v1h-1zM300 321h1v1h-1zM306 426h1v1h-1zM305 427h1v1h-1zM307 427h1v1h-1zM304 428h1v1h-1zM308 428h1v1h-1zM303 429h1v1h-1zM309 429h1v1h-1zM304 430h1v1h-1zM308 430h1v1h-1zM305 431h1v1h-1zM307 431h1v1h-1zM306 432h1v1h-1zM312 394h1v1h-1zM311 395h1v1h-1zM313 395h1v1h-1zM310 396h1v1h-1zM314 396h1v1h-1zM309 397h1v1h-1zM315 397h1v1h-1zM310 398h1v1h-1zM314 398h1v1h-1zM311 399h1v1h-1zM313 399h1v1h-1zM312 400h1v1h-1zM318 394h1v1h-1zM317 395h1v1h-1zM319 395h1v1h-1zM316 396h1v1h-1zM320 396h1v1h-1zM315 397h1v1h-1zM321 397h1v1h-1zM316 398h1v1h-1zM320 398h1v1h-1zM317 399h1v1h-1zM319 399h1v1h-1zM318 400h1v1h-1zM325 394h1v1h-1zM324 395h1v1h-1zM326 395h1v1h-1zM323 396h1v1h-1zM327 396h1v1h-1zM322 397h1v1h-1zM328 397h1v1h-1zM323 398h1v1h-1zM327 398h1v1h-1zM324 399h1v1h-1zM326 399h1v1h-1zM325 400h1v1h-1zM331 394h1v1h-1zM330 395h1v1h-1zM332 395h1v1h-1zM329 396h1v1h-1zM333 396h1v1h-1zM328 397h1v1h-1zM334 397h1v1h-1zM329 398h1v1h-1zM333 398h1v1h-1zM330 399h1v1h-1zM332 399h1v1h-1zM331 400h1v1h-1zM338 384h1v1h-1zM337 385h1v1h-1zM339 385h1v1h-1zM336 386h1v1h-1zM340 386h1v1h-1zM335 387h1v1h-1zM341 387h1v1h-1zM336 388h1v1h-1zM340 388h1v1h-1zM337 389h1v1h-1zM339 389h1v1h-1zM338 390h1v1h-1zM344 422h1v1h-1zM343 423h1v1h-1zM345 423h1v1h-1zM342 424h1v1h-1zM346 424h1v1h-1zM341 425h1v1h-1zM347 425h1v1h-1zM342 426h1v1h-1zM346 426h1v1h-1zM343 427h1v1h-1zM345 427h1v1h-1zM344 428h1v1h-1zM350 394h1v1h-1zM349 395h1v1h-1zM351 395h1v1h-1zM348 396h1v1h-1zM352 396h1v1h-1zM347 397h1v1h-1zM353 397h1v1h-1zM348 398h1v1h-1zM352 398h1v1h-1zM349 399h1v1h-1zM351 399h1v1h-1zM350 400h1v1h-1zM362 318h1v1h-1zM361 319h1v1h-1zM363 319h1v1h-1zM360 320h1v1h-1zM364 320h1v1h-1zM359 321h1v1h-1zM365 321h1v1h-1zM360 322h1v1h-1zM364 322h1v1h-1zM361 323h1v1h-1zM363 323h1v1h-1zM362 324h1v1h-1zM368 339h1v1h-1zM367 340h1v1h-1zM369 340h1v1h-1zM366 341h1v1h-1zM370 341h1v1h-1zM365 342h1v1h-1zM371 342h1v1h-1zM366 343h1v1h-1zM370 343h1v1h-1zM367 344h1v1h-1zM369 344h1v1h-1zM368 345h1v1h-1zM375 360h1v1h-1zM374 361h1v1h-1zM376 361h1v1h-1zM373 362h1v1h-1zM377 362h1v1h-1zM372 363h1v1h-1zM378 363h1v1h-1zM373 364h1v1h-1zM377 364h1v1h-1zM374 365h1v1h-1zM376 365h1v1h-1zM375 366h1v1h-1zM381 388h1v1h-1zM380 389h1v1h-1zM382 389h1v1h-1zM379 390h1v1h-1zM383 390h1v1h-1zM378 391h1v1h-1zM384 391h1v1h-1zM379 392h1v1h-1zM383 392h1v1h-1zM380 393h1v1h-1zM382 393h1v1h-1zM381 394h1v1h-1zM387 308h1v1h-1zM386 309h1v1h-1zM388 309h1v1h-1zM385 310h1v1h-1zM389 310h1v1h-1zM384 311h1v1h-1zM390 311h1v1h-1zM385 312h1v1h-1zM389 312h1v1h-1zM386 313h1v1h-1zM388 313h1v1h-1zM387 314h1v1h-1zM393 394h1v1h-1zM392 395h1v1h-1zM394 395h1v1h-1zM391 396h1v1h-1zM395 396h1v1h-1zM390 397h1v1h-1zM396 397h1v1h-1zM391 398h1v1h-1zM395 398h1v1h-1zM392 399h1v1h-1zM394 399h1v1h-1zM393 400h1v1h-1zM400 337h1v1h-1zM399 338h1v1h-1zM401 338h1v1h-1zM398 339h1v1h-1zM402 339h1v1h-1zM397 340h1v1h-1zM403 340h1v1h-1zM398 341h1v1h-1zM402 341h1v1h-1zM399 342h1v1h-1zM401 342h1v1h-1zM400 343h1v1h-1zM406 394h1v1h-1zM405 395h1v1h-1zM407 395h1v1h-1zM404 396h1v1h-1zM408 396h1v1h-1zM403 397h1v1h-1zM409 397h1v1h-1zM404 398h1v1h-1zM408 398h1v1h-1zM405 399h1v1h-1zM407 399h1v1h-1zM406 400h1v1h-1zM413 336h1v1h-1zM412 337h1v1h-1zM414 337h1v1h-1zM411 338h1v1h-1zM415 338h1v1h-1zM410 339h1v1h-1zM416 339h1v1h-1zM411 340h1v1h-1zM415 340h1v1h-1zM412 341h1v1h-1zM414 341h1v1h-1zM413 342h1v1h-1zM419 394h1v1h-1zM418 395h1v1h-1zM420 395h1v1h-1zM417 396h1v1h-1zM421 396h1v1h-1zM416 397h1v1h-1zM422 397h1v1h-1zM417 398h1v1h-1zM421 398h1v1h-1zM418 399h1v1h-1zM420 399h1v1h-1zM419 400h1v1h-1zM425 394h1v1h-1zM424 395h1v1h-1zM426 395h1v1h-1zM423 396h1v1h-1zM427 396h1v1h-1zM422 397h1v1h-1zM428 397h1v1h-1zM423 398h1v1h-1zM427 398h1v1h-1zM424 399h1v1h-1zM426 399h1v1h-1zM425 400h1v1h-1zM438 279h1v1h-1zM437 280h1v1h-1zM439 280h1v1h-1zM436 281h1v1h-1zM440 281h1v1h-1zM435 282h1v1h-1zM441 282h1v1h-1zM436 283h1v1h-1zM440 283h1v1h-1zM437 284h1v1h-1zM439 284h1v1h-1zM438 285h1v1h-1zM444 354h1v1h-1zM443 355h1v1h-1zM445 355h1v1h-1zM442 356h1v1h-1zM446 356h1v1h-1zM441 357h1v1h-1zM447 357h1v1h-1zM442 358h1v1h-1zM446 358h1v1h-1zM443 359h1v1h-1zM445 359h1v1h-1zM444 360h1v1h-1zM450 354h1v1h-1zM449 355h1v1h-1zM451 355h1v1h-1zM448 356h1v1h-1zM452 356h1v1h-1zM447 357h1v1h-1zM453 357h1v1h-1zM448 358h1v1h-1zM452 358h1v1h-1zM449 359h1v1h-1zM451 359h1v1h-1zM450 360h1v1h-1zM456 354h1v1h-1zM455 355h1v1h-1zM457 355h1v1h-1zM454 356h1v1h-1zM458 356h1v1h-1zM453 357h1v1h-1zM459 357h1v1h-1zM454 358h1v1h-1zM458 358h1v1h-1zM455 359h1v1h-1zM457 359h1v1h-1zM456 360h1v1h-1zM458 385h1v1h-1zM457 386h1v1h-1zM459 386h1v1h-1zM456 387h1v1h-1zM460 387h1v1h-1zM455 388h1v1h-1zM461 388h1v1h-1zM456 389h1v1h-1zM460 389h1v1h-1zM457 390h1v1h-1zM459 390h1v1h-1zM458 391h1v1h-1zM464 373h1v1h-1zM463 374h1v1h-1zM465 374h1v1h-1zM462 375h1v1h-1zM466 375h1v1h-1zM461 376h1v1h-1zM467 376h1v1h-1zM462 377h1v1h-1zM466 377h1v1h-1zM463 378h1v1h-1zM465 378h1v1h-1zM464 379h1v1h-1zM470 394h1v1h-1zM469 395h1v1h-1zM471 395h1v1h-1zM468 396h1v1h-1zM472 396h1v1h-1zM467 397h1v1h-1zM473 397h1v1h-1zM468 398h1v1h-1zM472 398h1v1h-1zM469 399h1v1h-1zM471 399h1v1h-1zM470 400h1v1h-1zM476 394h1v1h-1zM475 395h1v1h-1zM477 395h1v1h-1zM474 396h1v1h-1zM478 396h1v1h-1zM473 397h1v1h-1zM479 397h1v1h-1zM474 398h1v1h-1zM478 398h1v1h-1zM475 399h1v1h-1zM477 399h1v1h-1zM476 400h1v1h-1zM483 276h1v1h-1zM482 277h1v1h-1zM484 277h1v1h-1zM481 278h1v1h-1zM485 278h1v1h-1zM480 279h1v1h-1zM486 279h1v1h-1zM481 280h1v1h-1zM485 280h1v1h-1zM482 281h1v1h-1zM484 281h1v1h-1zM483 282h1v1h-1zM486 354h1v1h-1zM485 355h1v1h-1zM487 355h1v1h-1zM484 356h1v1h-1zM488 356h1v1h-1zM483 357h1v1h-1zM489 357h1v1h-1zM484 358h1v1h-1zM488 358h1v1h-1zM485 359h1v1h-1zM487 359h1v1h-1zM486 360h1v1h-1zM492 400h1v1h-1zM491 401h1v1h-1zM493 401h1v1h-1zM490 402h1v1h-1zM494 402h1v1h-1zM489 403h1v1h-1zM495 403h1v1h-1zM490 404h1v1h-1zM494 404h1v1h-1zM491 405h1v1h-1zM493 405h1v1h-1zM492 406h1v1h-1zM497 394h1v1h-1zM496 395h1v1h-1zM498 395h1v1h-1zM495 396h1v1h-1zM499 396h1v1h-1zM494 397h1v1h-1zM500 397h1v1h-1zM495 398h1v1h-1zM499 398h1v1h-1zM496 399h1v1h-1zM498 399h1v1h-1zM497 400h1v1h-1zM504 354h1v1h-1zM503 355h1v1h-1zM505 355h1v1h-1zM502 356h1v1h-1zM506 356h1v1h-1zM501 357h1v1h-1zM507 357h1v1h-1zM502 358h1v1h-1zM506 358h1v1h-1zM503 359h1v1h-1zM505 359h1v1h-1zM504 360h1v1h-1zM511 333h1v1h-1zM510 334h1v1h-1zM512 334h1v1h-1zM509 335h1v1h-1zM513 335h1v1h-1zM508 336h1v1h-1zM514 336h1v1h-1zM509 337h1v1h-1zM513 337h1v1h-1zM510 338h1v1h-1zM512 338h1v1h-1zM511 339h1v1h-1zM517 411h1v1h-1zM516 412h1v1h-1zM518 412h1v1h-1zM515 413h1v1h-1zM519 413h1v1h-1zM514 414h1v1h-1zM520 414h1v1h-1zM515 415h1v1h-1zM519 415h1v1h-1zM516 416h1v1h-1zM518 416h1v1h-1zM517 417h1v1h-1zM519 289h1v1h-1zM518 290h1v1h-1zM520 290h1v1h-1zM517 291h1v1h-1zM521 291h1v1h-1zM516 292h1v1h-1zM522 292h1v1h-1zM517 293h1v1h-1zM521 293h1v1h-1zM518 294h1v1h-1zM520 294h1v1h-1zM519 295h1v1h-1zM524 394h1v1h-1zM523 395h1v1h-1zM525 395h1v1h-1zM522 396h1v1h-1zM526 396h1v1h-1zM521 397h1v1h-1zM527 397h1v1h-1zM522 398h1v1h-1zM526 398h1v1h-1zM523 399h1v1h-1zM525 399h1v1h-1zM524 400h1v1h-1zM530 394h1v1h-1zM529 395h1v1h-1zM531 395h1v1h-1zM528 396h1v1h-1zM532 396h1v1h-1zM527 397h1v1h-1zM533 397h1v1h-1zM528 398h1v1h-1zM532 398h1v1h-1zM529 399h1v1h-1zM531 399h1v1h-1zM530 400h1v1h-1zM536 394h1v1h-1zM535 395h1v1h-1zM537 395h1v1h-1zM534 396h1v1h-1zM538 396h1v1h-1zM533 397h1v1h-1zM539 397h1v1h-1zM534 398h1v1h-1zM538 398h1v1h-1zM535 399h1v1h-1zM537 399h1v1h-1zM536 400h1v1h-1zM542 394h1v1h-1zM541 395h1v1h-1zM543 395h1v1h-1zM540 396h1v1h-1zM544 396h1v1h-1zM539 397h1v1h-1zM545 397h1v1h-1zM540 398h1v1h-1zM544 398h1v1h-1zM541 399h1v1h-1zM543 399h1v1h-1zM542 400h1v1h-1zM547 394h1v1h-1zM546 395h1v1h-1zM548 395h1v1h-1zM545 396h1v1h-1zM549 396h1v1h-1zM544 397h1v1h-1zM550 397h1v1h-1zM545 398h1v1h-1zM549 398h1v1h-1zM546 399h1v1h-1zM548 399h1v1h-1zM547 400h1v1h-1zM552 394h1v1h-1zM551 395h1v1h-1zM553 395h1v1h-1zM550 396h1v1h-1zM554 396h1v1h-1zM549 397h1v1h-1zM555 397h1v1h-1zM550 398h1v1h-1zM554 398h1v1h-1zM551 399h1v1h-1zM553 399h1v1h-1zM552 400h1v1h-1zM558 394h1v1h-1zM557 395h1v1h-1zM559 395h1v1h-1zM556 396h1v1h-1zM560 396h1v1h-1zM555 397h1v1h-1zM561 397h1v1h-1zM556 398h1v1h-1zM560 398h1v1h-1zM557 399h1v1h-1zM559 399h1v1h-1zM558 400h1v1h-1zM564 394h1v1h-1zM563 395h1v1h-1zM565 395h1v1h-1zM562 396h1v1h-1zM566 396h1v1h-1zM561 397h1v1h-1zM567 397h1v1h-1zM562 398h1v1h-1zM566 398h1v1h-1zM563 399h1v1h-1zM565 399h1v1h-1zM564 400h1v1h-1zM570 394h1v1h-1zM569 395h1v1h-1zM571 395h1v1h-1zM568 396h1v1h-1zM572 396h1v1h-1zM567 397h1v1h-1zM573 397h1v1h-1zM568 398h1v1h-1zM572 398h1v1h-1zM569 399h1v1h-1zM571 399h1v1h-1zM570 400h1v1h-1z" fill="#00ff80"/>
<path d="M99 354h1v1h-1zM99 355h1v1h-1zM98 356h1v1h-1zM100 356h1v1h-1zM98 357h1v1h-1zM100 357h1v1h-1zM97 358h1v1h-1zM101 358h1v1h-1zM97 359h1v1h-1zM101 359h1v1h-1zM96 360h7v1h-7zM102 394h1v1h-1zM102 395h1v1h-1zM101 396h1v1h-1zM103 396h1v1h-1zM101 397h1v1h-1zM103 397h1v1h-1zM100 398h1v1h-1zM104 398h1v1h-1zM100 399h1v1h-1zM104 399h1v1h-1zM99 400h7v1h-7zM106 354h1v1h-1zM106 355h1v1h-1zM105 356h1v1h-1zM107 356h1v1h-1zM105 357h1v1h-1zM107 357h1v1h-1zM104 358h1v1h-1zM108 358h1v1h-1zM104 359h1v1h-1zM108 359h1v1h-1zM103 360h7v1h-7zM116 354h1v1h-1zM116 355h1v1h-1zM115 356h1v1h-1zM117 356h1v1h-1zM115 357h1v1h-1zM117 357h1v1h-1zM114 358h1v1h-1zM118 358h1v1h-1zM114 359h1v1h-1zM118 359h1v1h-1zM113 360h7v1h-7zM122 449h1v1h-1zM122 450h1v1h-1zM121 451h1v1h-1zM123 451h1v1h-1zM121 452h1v1h-1zM123 452h1v1h-1zM120 453h1v1h-1zM124 453h1v1h-1zM120 454h1v1h-1zM124 454h1v1h-1zM119 455h7v1h-7zM129 394h1v1h-1zM129 395h1v1h-1zM128 396h1v1h-1zM130 396h1v1h-1zM128 397h1v1h-1zM130 397h1v1h-1zM127 398h1v1h-1zM131 398h1v1h-1zM127 399h1v1h-1zM131 399h1v1h-1zM126 400h7v1h-7zM135 394h1v1h-1zM135 395h1v1h-1zM134 396h1v1h-1zM136 396h1v1h-1zM134 397h1v1h-1zM136 397h1v1h-1zM133 398h1v1h-1zM137 398h1v1h-1zM133 399h1v1h-1zM137 399h1v1h-1zM132 400h7v1h-7zM139 175h1v1h-1zM139 176h1v1h-1zM138 177h1v1h-1zM140 177h1v1h-1zM138 178h1v1h-1zM140 178h1v1h-1zM137 179h1v1h-1zM141 179h1v1h-1zM137 180h1v1h-1zM141 180h1v1h-1zM136 181h7v1h-7zM145 354h1v1h-1zM145 355h1v1h-1zM144 356h1v1h-1zM146 356h1v1h-1zM144 357h1v1h-1zM146 357h1v1h-1zM143 358h1v1h-1zM147 358h1v1h-1zM143 359h1v1h-1zM147 359h1v1h-1zM142 360h7v1h-7zM150 328h1v1h-1zM150 329h1v1h-1zM149 330h1v1h-1zM151 330h1v1h-1zM149 331h1v1h-1zM151 331h1v1h-1zM148 332h1v1h-1zM152 332h1v1h-1zM148 333h1v1h-1zM152 333h1v1h-1zM147 334h7v1h-7zM156 283h1v1h-1zM156 284h1v1h-1zM155 285h1v1h-1zM157 285h1v1h-1zM155 286h1v1h-1zM157 286h1v1h-1zM154 287h1v1h-1zM158 287h1v1h-1zM154 288h1v1h-1zM158 288h1v1h-1zM153 289h7v1h-7zM162 349h1v1h-1zM162 350h1v1h-1zM161 351h1v1h-1zM163 351h1v1h-1zM161 352h1v1h-1zM163 352h1v1h-1zM160 353h1v1h-1zM164 353h1v1h-1zM160 354h1v1h-1zM164 354h1v1h-1zM159 355h7v1h-7zM164 205h1v1h-1zM164 206h1v1h-1zM163 207h1v1h-1zM165 207h1v1h-1zM163 208h1v1h-1zM165 208h1v1h-1zM162 209h1v1h-1zM166 209h1v1h-1zM162 210h1v1h-1zM166 210h1v1h-1zM161 211h7v1h-7zM177 394h1v1h-1zM177 395h1v1h-1zM176 396h1v1h-1zM178 396h1v1h-1zM176 397h1v1h-1zM178 397h1v1h-1zM175 398h1v1h-1zM179 398h1v1h-1zM175 399h1v1h-1zM179 399h1v1h-1zM174 400h7v1h-7zM183 394h1v1h-1zM183 395h1v1h-1zM182 396h1v1h-1zM184 396h1v1h-1zM182 397h1v1h-1zM184 397h1v1h-1zM181 398h1v1h-1zM185 398h1v1h-1zM181 399h1v1h-1zM185 399h1v1h-1zM180 400h7v1h-7zM189 394h1v1h-1zM189 395h1v1h-1zM188 396h1v1h-1zM190 396h1v1h-1zM188 397h1v1h-1zM190 397h1v1h-1zM187 398h1v1h-1zM191 398h1v1h-1zM187 399h1v1h-1zM191 399h1v1h-1zM186 400h7v1h-7zM195 394h1v1h-1zM195 395h1v1h-1zM194 396h1v1h-1zM196 396h1v1h-1zM194 397h1v1h-1zM196 397h1v1h-1zM193 398h1v1h-1zM197 398h1v1h-1zM193 399h1v1h-1zM197 399h1v1h-1zM192 400h7v1h-7zM201 394h1v1h-1zM201 395h1v1h-1zM200 396h1v1h-1zM202 396h1v1h-1zM200 397h1v1h-1zM202 397h1v1h-1zM199 398h1v1h-1zM203 398h1v1h-1zM199 399h1v1h-1zM203 399h1v1h-1zM198 400h7v1h-7zM207 394h1v1h-1zM207 395h1v1h-1zM206 396h1v1h-1zM208 396h1v1h-1zM206 397h1v1h-1zM208 397h1v1h-1zM205 398h1v1h-1zM209 398h1v1h-1zM205 399h1v1h-1zM209 399h1v1h-1zM204 400h7v1h-7zM211 429h1v1h-1zM211 430h1v1h-1zM210 431h1v1h-1zM212 431h1v1h-1zM210 432h1v1h-1zM212 432h1v1h-1zM209 433h1v1h-1zM213 433h1v1h-1zM209 434h1v1h-1zM213 434h1v1h-1zM208 435h7v1h-7zM217 354h1v1h-1zM217 355h1v1h-1zM216 356h1v1h-1zM218 356h1v1h-1zM216 357h1v1h-1zM218 357h1v1h-1zM215 358h1v1h-1zM219 358h1v1h-1zM215 359h1v1h-1zM219 359h1v1h-1zM214 360h7v1h-7zM222 376h1v1h-1zM222 377h1v1h-1zM221 378h1v1h-1zM223 378h1v1h-1zM221 379h1v1h-1zM223 379h1v1h-1zM220 380h1v1h-1zM224 380h1v1h-1zM220 381h1v1h-1zM224 381h1v1h-1zM219 382h7v1h-7zM230 394h1v1h-1zM230 395h1v1h-1zM229 396h1v1h-1zM231 396h1v1h-1zM229 397h1v1h-1zM231 397h1v1h-1zM228 398h1v1h-1zM232 398h1v1h-1zM228 399h1v1h-1zM232 399h1v1h-1zM227 400h7v1h-7zM236 341h1v1h-1zM236 342h1v1h-1zM235 343h1v1h-1zM237 343h1v1h-1zM235 344h1v1h-1zM237 344h1v1h-1zM234 345h1v1h-1zM238 345h1v1h-1zM234 346h1v1h-1zM238 346h1v1h-1zM233 347h7v1h-7zM242 239h1v1h-1zM242 240h1v1h-1zM241 241h1v1h-1zM243 241h1v1h-1zM241 242h1v1h-1zM243 242h1v1h-1zM240 243h1v1h-1zM244 243h1v1h-1zM240 244h1v1h-1zM244 244h1v1h-1zM239 245h7v1h-7zM248 394h1v1h-1zM248 395h1v1h-1zM247 396h1v1h-1zM249 396h1v1h-1zM247 397h1v1h-1zM249 397h1v1h-1zM246 398h1v1h-1zM250 398h1v1h-1zM246 399h1v1h-1zM250 399h1v1h-1zM245 400h7v1h-7zM255 394h1v1h-1zM255 395h1v1h-1zM254 396h1v1h-1zM256 396h1v1h-1zM254 397h1v1h-1zM256 397h1v1h-1zM253 398h1v1h-1zM257 398h1v1h-1zM253 399h1v1h-1zM257 399h1v1h-1zM252 400h7v1h-7zM260 383h1v1h-1zM260 384h1v1h-1zM259 385h1v1h-1zM261 385h1v1h-1zM259 386h1v1h-1zM261 386h1v1h-1zM258 387h1v1h-1zM262 387h1v1h-1zM258 388h1v1h-1zM262 388h1v1h-1zM257 389h7v1h-7zM268 354h1v1h-1zM268 355h1v1h-1zM267 356h1v1h-1zM269 356h1v1h-1zM267 357h1v1h-1zM269 357h1v1h-1zM266 358h1v1h-1zM270 358h1v1h-1zM266 359h1v1h-1zM270 359h1v1h-1zM265 360h7v1h-7zM275 382h1v1h-1zM275 383h1v1h-1zM274 384h1v1h-1zM276 384h1v1h-1zM274 385h1v1h-1zM276 385h1v1h-1zM273 386h1v1h-1zM277 386h1v1h-1zM273 387h1v1h-1zM277 387h1v1h-1zM272 388h7v1h-7zM281 444h1v1h-1zM281 445h1v1h-1zM280 446h1v1h-1zM282 446h1v1h-1zM280 447h1v1h-1zM282 447h1v1h-1zM279 448h1v1h-1zM283 448h1v1h-1zM279 449h1v1h-1zM283 449h1v1h-1zM278 450h7v1h-7zM288 394h1v1h-1zM288 395h1v1h-1zM287 396h1v1h-1zM289 396h1v1h-1zM287 397h1v1h-1zM289 397h1v1h-1zM286 398h1v1h-1zM290 398h1v1h-1zM286 399h1v1h-1zM290 399h1v1h-1zM285 400h7v1h-7zM294 394h1v1h-1zM294 395h1v1h-1zM293 396h1v1h-1zM295 396h1v1h-1zM293 397h1v1h-1zM295 397h1v1h-1zM292 398h1v1h-1zM296 398h1v1h-1zM292 399h1v1h-1zM296 399h1v1h-1zM291 400h7v1h-7zM300 431h1v1h-1zM300 432h1v1h-1zM299 433h1v1h-1zM301 433h1v1h-1zM299 434h1v1h-1zM301 434h1v1h-1zM298 435h1v1h-1zM302 435h1v1h-1zM298 436h1v1h-1zM302 436h1v1h-1zM297 437h7v1h-7zM306 355h1v1h-1zM306 356h1v1h-1zM305 357h1v1h-1zM307 357h1v1h-1zM305 358h1v1h-1zM307 358h1v1h-1zM304 359h1v1h-1zM308 359h1v1h-1zM304 360h1v1h-1zM308 360h1v1h-1zM303 361h7v1h-7zM312 394h1v1h-1zM312 395h1v1h-1zM311 396h1v1h-1zM313 396h1v1h-1zM311 397h1v1h-1zM313 397h1v1h-1zM310 398h1v1h-1zM314 398h1v1h-1zM310 399h1v1h-1zM314 399h1v1h-1zM309 400h7v1h-7zM318 404h1v1h-1zM318 405h1v1h-1zM317 406h1v1h-1zM319 406h1v1h-1zM317 407h1v1h-1zM319 407h1v1h-1zM316 408h1v1h-1zM320 408h1v1h-1zM316 409h1v1h-1zM320 409h1v1h-1zM315 410h7v1h-7zM325 394h1v1h-1zM325 395h1v1h-1zM324 396h1v1h-1zM326 396h1v1h-1zM324 397h1v1h-1zM326 397h1v1h-1zM323 398h1v1h-1zM327 398h1v1h-1zM323 399h1v1h-1zM327 399h1v1h-1zM322 400h7v1h-7zM331 394h1v1h-1zM331 395h1v1h-1zM330 396h1v1h-1zM332 396h1v1h-1zM330 397h1v1h-1zM332 397h1v1h-1zM329 398h1v1h-1zM333 398h1v1h-1zM329 399h1v1h-1zM333 399h1v1h-1zM328 400h7v1h-7zM338 340h1v1h-1zM338 341h1v1h-1zM337 342h1v1h-1zM339 342h1v1h-1zM337 343h1v1h-1zM339 343h1v1h-1zM336 344h1v1h-1zM340 344h1v1h-1zM336 345h1v1h-1zM340 345h1v1h-1zM335 346h7v1h-7zM343 329h1v1h-1zM343 330h1v1h-1zM342 331h1v1h-1zM344 331h1v1h-1zM342 332h1v1h-1zM344 332h1v1h-1zM341 333h1v1h-1zM345 333h1v1h-1zM341 334h1v1h-1zM345 334h1v1h-1zM340 335h7v1h-7zM350 394h1v1h-1zM350 395h1v1h-1zM349 396h1v1h-1zM351 396h1v1h-1zM349 397h1v1h-1zM351 397h1v1h-1zM348 398h1v1h-1zM352 398h1v1h-1zM348 399h1v1h-1zM352 399h1v1h-1zM347 400h7v1h-7zM356 374h1v1h-1zM356 375h1v1h-1zM355 376h1v1h-1zM357 376h1v1h-1zM355 377h1v1h-1zM357 377h1v1h-1zM354 378h1v1h-1zM358 378h1v1h-1zM354 379h1v1h-1zM358 379h1v1h-1zM353 380h7v1h-7zM362 280h1v1h-1zM362 281h1v1h-1zM361 282h1v1h-1zM363 282h1v1h-1zM361 283h1v1h-1zM363 283h1v1h-1zM360 284h1v1h-1zM364 284h1v1h-1zM360 285h1v1h-1zM364 285h1v1h-1zM359 286h7v1h-7zM369 293h1v1h-1zM369 294h1v1h-1zM368 295h1v1h-1zM370 295h1v1h-1zM368 296h1v1h-1zM370 296h1v1h-1zM367 297h1v1h-1zM371 297h1v1h-1zM367 298h1v1h-1zM371 298h1v1h-1zM366 299h7v1h-7zM375 322h1v1h-1zM375 323h1v1h-1zM374 324h1v1h-1zM376 324h1v1h-1zM374 325h1v1h-1zM376 325h1v1h-1zM373 326h1v1h-1zM377 326h1v1h-1zM373 327h1v1h-1zM377 327h1v1h-1zM372 328h7v1h-7zM381 316h1v1h-1zM381 317h1v1h-1zM380 318h1v1h-1zM382 318h1v1h-1zM380 319h1v1h-1zM382 319h1v1h-1zM379 320h1v1h-1zM383 320h1v1h-1zM379 321h1v1h-1zM383 321h1v1h-1zM378 322h7v1h-7zM387 276h1v1h-1zM387 277h1v1h-1zM386 278h1v1h-1zM388 278h1v1h-1zM386 279h1v1h-1zM388 279h1v1h-1zM385 280h1v1h-1zM389 280h1v1h-1zM385 281h1v1h-1zM389 281h1v1h-1zM384 282h7v1h-7zM393 394h1v1h-1zM393 395h1v1h-1zM392 396h1v1h-1zM394 396h1v1h-1zM392 397h1v1h-1zM394 397h1v1h-1zM391 398h1v1h-1zM395 398h1v1h-1zM391 399h1v1h-1zM395 399h1v1h-1zM390 400h7v1h-7zM400 307h1v1h-1zM400 308h1v1h-1zM399 309h1v1h-1zM401 309h1v1h-1zM399 310h1v1h-1zM401 310h1v1h-1zM398 311h1v1h-1zM402 311h1v1h-1zM398 312h1v1h-1zM402 312h1v1h-1zM397 313h7v1h-7zM406 394h1v1h-1zM406 395h1v1h-1zM405 396h1v1h-1zM407 396h1v1h-1zM405 397h1v1h-1zM407 397h1v1h-1zM404 398h1v1h-1zM408 398h1v1h-1zM404 399h1v1h-1zM408 399h1v1h-1zM403 400h7v1h-7zM413 329h1v1h-1zM413 330h1v1h-1zM412 331h1v1h-1zM414 331h1v1h-1zM412 332h1v1h-1zM414 332h1v1h-1zM411 333h1v1h-1zM415 333h1v1h-1zM411 334h1v1h-1zM415 334h1v1h-1zM410 335h7v1h-7zM419 354h1v1h-1zM419 355h1v1h-1zM418 356h1v1h-1zM420 356h1v1h-1zM418 357h1v1h-1zM420 357h1v1h-1zM417 358h1v1h-1zM421 358h1v1h-1zM417 359h1v1h-1zM421 359h1v1h-1zM416 360h7v1h-7zM425 394h1v1h-1zM425 395h1v1h-1zM424 396h1v1h-1zM426 396h1v1h-1zM424 397h1v1h-1zM426 397h1v1h-1zM423 398h1v1h-1zM427 398h1v1h-1zM423 399h1v1h-1zM427 399h1v1h-1zM422 400h7v1h-7zM438 275h1v1h-1zM438 276h1v1h-1zM437 277h1v1h-1zM439 277h1v1h-1zM437 278h1v1h-1zM439 278h1v1h-1zM436 279h1v1h-1zM440 279h1v1h-1zM436 280h1v1h-1zM440 280h1v1h-1zM435 281h7v1h-7zM444 346h1v1h-1zM444 347h1v1h-1zM443 348h1v1h-1zM445 348h1v1h-1zM443 349h1v1h-1zM445 349h1v1h-1zM442 350h1v1h-1zM446 350h1v1h-1zM442 351h1v1h-1zM446 351h1v1h-1zM441 352h7v1h-7zM450 353h1v1h-1zM450 354h1v1h-1zM449 355h1v1h-1zM451 355h1v1h-1zM449 356h1v1h-1zM451 356h1v1h-1zM448 357h1v1h-1zM452 357h1v1h-1zM448 358h1v1h-1zM452 358h1v1h-1zM447 359h7v1h-7zM456 362h1v1h-1zM456 363h1v1h-1zM455 364h1v1h-1zM457 364h1v1h-1zM455 365h1v1h-1zM457 365h1v1h-1zM454 366h1v1h-1zM458 366h1v1h-1zM454 367h1v1h-1zM458 367h1v1h-1zM453 368h7v1h-7zM458 340h1v1h-1zM458 341h1v1h-1zM457 342h1v1h-1zM459 342h1v1h-1zM457 343h1v1h-1zM459 343h1v1h-1zM456 344h1v1h-1zM460 344h1v1h-1zM456 345h1v1h-1zM460 345h1v1h-1zM455 346h7v1h-7zM464 368h1v1h-1zM464 369h1v1h-1zM463 370h1v1h-1zM465 370h1v1h-1zM463 371h1v1h-1zM465 371h1v1h-1zM462 372h1v1h-1zM466 372h1v1h-1zM462 373h1v1h-1zM466 373h1v1h-1zM461 374h7v1h-7zM470 354h1v1h-1zM470 355h1v1h-1zM469 356h1v1h-1zM471 356h1v1h-1zM469 357h1v1h-1zM471 357h1v1h-1zM468 358h1v1h-1zM472 358h1v1h-1zM468 359h1v1h-1zM472 359h1v1h-1zM467 360h7v1h-7zM476 394h1v1h-1zM476 395h1v1h-1zM475 396h1v1h-1zM477 396h1v1h-1zM475 397h1v1h-1zM477 397h1v1h-1zM474 398h1v1h-1zM478 398h1v1h-1zM474 399h1v1h-1zM478 399h1v1h-1zM473 400h7v1h-7zM483 275h1v1h-1zM483 276h1v1h-1zM482 277h1v1h-1zM484 277h1v1h-1zM482 278h1v1h-1zM484 278h1v1h-1zM481 279h1v1h-1zM485 279h1v1h-1zM481 280h1v1h-1zM485 280h1v1h-1zM480 281h7v1h-7zM486 354h1v1h-1zM486 355h1v1h-1zM485 356h1v1h-1zM487 356h1v1h-1zM485 357h1v1h-1zM487 357h1v1h-1zM484 358h1v1h-1zM488 358h1v1h-1zM484 359h1v1h-1zM488 359h1v1h-1zM483 360h7v1h-7zM492 394h1v1h-1zM492 395h1v1h-1zM491 396h1v1h-1zM493 396h1v1h-1zM491 397h1v1h-1zM493 397h1v1h-1zM490 398h1v1h-1zM494 398h1v1h-1zM490 399h1v1h-1zM494 399h1v1h-1zM489 400h7v1h-7zM497 394h1v1h-1zM497 395h1v1h-1zM496 396h1v1h-1zM498 396h1v1h-1zM496 397h1v1h-1zM498 397h1v1h-1zM495 398h1v1h-1zM499 398h1v1h-1zM495 399h1v1h-1zM499 399h1v1h-1zM494 400h7v1h-7zM504 354h1v1h-1zM504 355h1v1h-1zM503 356h1v1h-1zM505 356h1v1h-1zM503 357h1v1h-1zM505 357h1v1h-1zM502 358h1v1h-1zM506 358h1v1h-1zM502 359h1v1h-1zM506 359h1v1h-1zM501 360h7v1h-7zM517 399h1v1h-1zM517 400h1v1h-1zM516 401h1v1h-1zM518 401h1v1h-1zM516 402h1v1h-1zM518 402h1v1h-1zM515 403h1v1h-1zM519 403h1v1h-1zM515 404h1v1h-1zM519 404h1v1h-1zM514 405h7v1h-7zM519 285h1v1h-1zM519 286h1v1h-1zM518 287h1v1h-1zM520 287h1v1h-1zM518 288h1v1h-1zM520 288h1v1h-1zM517 289h1v1h-1zM521 289h1v1h-1zM517 290h1v1h-1zM521 290h1v1h-1zM516 291h7v1h-7zM524 394h1v1h-1zM524 395h1v1h-1zM523 396h1v1h-1zM525 396h1v1h-1zM523 397h1v1h-1zM525 397h1v1h-1zM522 398h1v1h-1zM526 398h1v1h-1zM522 399h1v1h-1zM526 399h1v1h-1zM521 400h7v1h-7zM530 394h1v1h-1zM530 395h1v1h-1zM529 396h1v1h-1zM531 396h1v1h-1zM529 397h1v1h-1zM531 397h1v1h-1zM528 398h1v1h-1zM532 398h1v1h-1zM528 399h1v1h-1zM532 399h1v1h-1zM527 400h7v1h-7zM536 394h1v1h-1zM536 395h1v1h-1zM535 396h1v1h-1zM537 396h1v1h-1zM535 397h1v1h-1zM537 397h1v1h-1zM534 398h1v1h-1zM538 398h1v1h-1zM534 399h1v1h-1zM538 399h1v1h-1zM533 400h7v1h-7zM542 394h1v1h-1zM542 395h1v1h-1zM541 396h1v1h-1zM543 396h1v1h-1zM541 397h1v1h-1zM543 397h1v1h-1zM540 398h1v1h-1zM544 398h1v1h-1zM540 399h1v1h-1zM544 399h1v1h-1zM539 400h7v1h-7zM547 394h1v1h-1zM547 395h1v1h-1zM546 396h1v1h-1zM548 396h1v1h-1zM546 397h1v1h-1zM548 397h1v1h-1zM545 398h1v1h-1zM549 398h1v1h-1zM545 399h1v1h-1zM549 399h1v1h-1zM544 400h7v1h-7zM552 394h1v1h-1zM552 395h1v1h-1zM551 396h1v1h-1zM553 396h1v1h-1zM551 397h1v1h-1zM553 397h1v1h-1zM550 398h1v1h-1zM554 398h1v1h-1zM550 399h1v1h-1zM554 399h1v1h-1zM549 400h7v1h-7zM558 394h1v1h-1zM558 395h1v1h-1zM557 396h1v1h-1zM559 396h1v1h-1zM557 397h1v1h-1zM559 397h1v1h-1zM556 398h1v1h-1zM560 398h1v1h-1zM556 399h1v1h-1zM560 399h1v1h-1zM555 400h7v1h-7zM564 394h1v1h-1zM564 395h1v1h-1zM563 396h1v1h-1zM565 396h1v1h-1zM563 397h1v1h-1zM565 397h1v1h-1zM562 398h1v1h-1zM566 398h1v1h-1zM562 399h1v1h-1zM566 399h1v1h-1zM561 400h7v1h-7zM570 394h1v1h-1zM570 395h1v1h-1zM569 396h1v1h-1zM571 396h1v1h-1zM569 397h1v1h-1zM571 397h1v1h-1zM568 398h1v1h-1zM572 398h1v1h-1zM568 399h1v1h-1zM572 399h1v1h-1zM567 400h7v1h-7z" fill="#f5ff00"/>
<path d="M96 354h7v1h-7zM96 355h1v1h-1zM102 355h1v1h-1zM96 356h1v1h-1zM102 356h1v1h-1zM96 357h1v1h-1zM102 357h1v1h-1zM96 358h1v1h-1zM102 358h1v1h-1zM96 359h1v1h-1zM102 359h1v1h-1zM96 360h7v1h-7zM99 394h7v1h-7zM99 395h1v1h-1zM105 395h1v1h-1zM99 396h1v1h-1zM105 396h1v1h-1zM99 397h1v1h-1zM105 397h1v1h-1zM99 398h1v1h-1zM105 398h1v1h-1zM99 399h1v1h-1zM105 399h1v1h-1zM99 400h7v1h-7zM103 354h7v1h-7zM103 355h1v1h-1zM109 355h1v1h-1zM103 356h1v1h-1zM109 356h1v1h-1zM103 357h1v1h-1zM109 357h1v1h-1zM103 358h1v1h-1zM109 358h1v1h-1zM103 359h1v1h-1zM109 359h1v1h-1zM103 360h7v1h-7zM108 394h7v1h-7zM108 395h1v1h-1zM114 395h1v1h-1zM108 396h1v1h-1zM114 396h1v1h-1zM108 397h1v1h-1zM114 397h1v1h-1zM108 398h1v1h-1zM114 398h1v1h-1zM108 399h1v1h-1zM114 399h1v1h-1zM108 400h7v1h-7zM113 354h7v1h-7zM113 355h1v1h-1zM119 355h1v1h-1zM113 356h1v1h-1zM119 356h1v1h-1zM113 357h1v1h-1zM119 357h1v1h-1zM113 358h1v1h-1zM119 358h1v1h-1zM113 359h1v1h-1zM119 359h1v1h-1zM113 360h7v1h-7zM119 394h7v1h-7zM119 395h1v1h-1zM125 395h1v1h-1zM119 396h1v1h-1zM125 396h1v1h-1zM119 397h1v1h-1zM125 397h1v1h-1zM119 398h1v1h-1zM125 398h1v1h-1zM119 399h1v1h-1zM125 399h1v1h-1zM119 400h7v1h-7zM126 394h7v1h-7zM126 395h1v1h-1zM132 395h1v1h-1zM126 396h1v1h-1zM132 396h1v1h-1zM126 397h1v1h-1zM132 397h1v1h-1zM126 398h1v1h-1zM132 398h1v1h-1zM126 399h1v1h-1zM132 399h1v1h-1zM126 400h7v1h-7zM132 394h7v1h-7zM132 395h1v1h-1zM138 395h1v1h-1zM132 396h1v1h-1zM138 396h1v1h-1zM132 397h1v1h-1zM138 397h1v1h-1zM132 398h1v1h-1zM138 398h1v1h-1zM132 399h1v1h-1zM138 399h1v1h-1zM132 400h7v1h-7zM136 161h7v1h-7zM136 162h1v1h-1zM142 162h1v1h-1zM136 163h1v1h-1zM142 163h1v1h-1zM136 164h1v1h-1zM142 164h1v1h-1zM136 165h1v1h-1zM142 165h1v1h-1zM136 166h1v1h-1zM142 166h1v1h-1zM136 167h7v1h-7zM142 354h7v1h-7zM142 355h1v1h-1zM148 355h1v1h-1zM142 356h1v1h-1zM148 356h1v1h-1zM142 357h1v1h-1zM148 357h1v1h-1zM142 358h1v1h-1zM148 358h1v1h-1zM142 359h1v1h-1zM148 359h1v1h-1zM142 360h7v1h-7zM147 295h7v1h-7zM147 296h1v1h-1zM153 296h1v1h-1zM147 297h1v1h-1zM153 297h1v1h-1zM147 298h1v1h-1zM153 298h1v1h-1zM147 299h1v1h-1zM153 299h1v1h-1zM147 300h1v1h-1zM153 300h1v1h-1zM147 301h7v1h-7zM153 308h7v1h-7zM153 309h1v1h-1zM159 309h1v1h-1zM153 310h1v1h-1zM159 310h1v1h-1zM153 311h1v1h-1zM159 311h1v1h-1zM153 312h1v1h-1zM159 312h1v1h-1zM153 313h1v1h-1zM159 313h1v1h-1zM153 314h7v1h-7zM159 307h7v1h-7zM159 308h1v1h-1zM165 308h1v1h-1zM159 309h1v1h-1zM165 309h1v1h-1zM159 310h1v1h-1zM165 310h1v1h-1zM159 311h1v1h-1zM165 311h1v1h-1zM159 312h1v1h-1zM165 312h1v1h-1zM159 313h7v1h-7zM161 242h7v1h-7zM161 243h1v1h-1zM167 243h1v1h-1zM161 244h1v1h-1zM167 244h1v1h-1zM161 245h1v1h-1zM167 245h1v1h-1zM161 246h1v1h-1zM167 246h1v1h-1zM161 247h1v1h-1zM167 247h1v1h-1zM161 248h7v1h-7zM174 394h7v1h-7zM174 395h1v1h-1zM180 395h1v1h-1zM174 396h1v1h-1zM180 396h1v1h-1zM174 397h1v1h-1zM180 397h1v1h-1zM174 398h1v1h-1zM180 398h1v1h-1zM174 399h1v1h-1zM180 399h1v1h-1zM174 400h7v1h-7zM180 394h7v1h-7zM180 395h1v1h-1zM186 395h1v1h-1zM180 396h1v1h-1zM186 396h1v1h-1zM180 397h1v1h-1zM186 397h1v1h-1zM180 398h1v1h-1zM186 398h1v1h-1zM180 399h1v1h-1zM186 399h1v1h-1zM180 400h7v1h-7zM186 394h7v1h-7zM186 395h1v1h-1zM192 395h1v1h-1zM186 396h1v1h-1zM192 396h1v1h-1zM186 397h1v1h-1zM192 397h1v1h-1zM186 398h1v1h-1zM192 398h1v1h-1zM186 399h1v1h-1zM192 399h1v1h-1zM186 400h7v1h-7zM192 394h7v1h-7zM192 395h1v1h-1zM198 395h1v1h-1zM192 396h1v1h-1zM198 396h1v1h-1zM192 397h1v1h-1zM198 397h1v1h-1zM192 398h1v1h-1zM198 398h1v1h-1zM192 399h1v1h-1zM198 399h1v1h-1zM192 400h7v1h-7zM198 394h7v1h-7zM198 395h1v1h-1zM204 395h1v1h-1zM198 396h1v1h-1zM204 396h1v1h-1zM198 397h1v1h-1zM204 397h1v1h-1zM198 398h1v1h-1zM204 398h1v1h-1zM198 399h1v1h-1zM204 399h1v1h-1zM198 400h7v1h-7zM204 394h7v1h-7zM204 395h1v1h-1zM210 395h1v1h-1zM204 396h1v1h-1zM210 396h1v1h-1zM204 397h1v1h-1zM210 397h1v1h-1zM204 398h1v1h-1zM210 398h1v1h-1zM204 399h1v1h-1zM210 399h1v1h-1zM204 400h7v1h-7zM208 394h7v1h-7zM208 395h1v1h-1zM214 395h1v1h-1zM208 396h1v1h-1zM214 396h1v1h-1zM208 397h1v1h-1zM214 397h1v1h-1zM208 398h1v1h-1zM214 398h1v1h-1zM208 399h1v1h-1zM214 399h1v1h-1zM208 400h7v1h-7zM214 354h7v1h-7zM214 355h1v1h-1zM220 355h1v1h-1zM214 356h1v1h-1zM220 356h1v1h-1zM214 357h1v1h-1zM220 357h1v1h-1zM214 358h1v1h-1zM220 358h1v1h-1zM214 359h1v1h-1zM220 359h1v1h-1zM214 360h7v1h-7zM220 334h7v1h-7zM220 335h1v1h-1zM226 335h1v1h-1zM220 336h1v1h-1zM226 336h1v1h-1zM220 337h1v1h-1zM226 337h1v1h-1zM220 338h1v1h-1zM226 338h1v1h-1zM220 339h1v1h-1zM226 339h1v1h-1zM220 340h7v1h-7zM227 394h7v1h-7zM227 395h1v1h-1zM233 395h1v1h-1zM227 396h1v1h-1zM233 396h1v1h-1zM227 397h1v1h-1zM233 397h1v1h-1zM227 398h1v1h-1zM233 398h1v1h-1zM227 399h1v1h-1zM233 399h1v1h-1zM227 400h7v1h-7zM233 278h7v1h-7zM233 279h1v1h-1zM239 279h1v1h-1zM233 280h1v1h-1zM239 280h1v1h-1zM233 281h1v1h-1zM239 281h1v1h-1zM233 282h1v1h-1zM239 282h1v1h-1zM233 283h1v1h-1zM239 283h1v1h-1zM233 284h7v1h-7zM239 165h7v1h-7zM239 166h1v1h-1zM245 166h1v1h-1zM239 167h1v1h-1zM245 167h1v1h-1zM239 168h1v1h-1zM245 168h1v1h-1zM239 169h1v1h-1zM245 169h1v1h-1zM239 170h1v1h-1zM245 170h1v1h-1zM239 171h7v1h-7zM245 222h7v1h-7zM245 223h1v1h-1zM251 223h1v1h-1zM245 224h1v1h-1zM251 224h1v1h-1zM245 225h1v1h-1zM251 225h1v1h-1zM245 226h1v1h-1zM251 226h1v1h-1zM245 227h1v1h-1zM251 227h1v1h-1zM245 228h7v1h-7zM252 249h7v1h-7zM252 250h1v1h-1zM258 250h1v1h-1zM252 251h1v1h-1zM258 251h1v1h-1zM252 252h1v1h-1zM258 252h1v1h-1zM252 253h1v1h-1zM258 253h1v1h-1zM252 254h1v1h-1zM258 254h1v1h-1zM252 255h7v1h-7zM258 235h7v1h-7zM258 236h1v1h-1zM264 236h1v1h-1zM258 237h1v1h-1zM264 237h1v1h-1zM258 238h1v1h-1zM264 238h1v1h-1zM258 239h1v1h-1zM264 239h1v1h-1zM258 240h1v1h-1zM264 240h1v1h-1zM258 241h7v1h-7zM259 213h7v1h-7zM259 214h1v1h-1zM265 214h1v1h-1zM259 215h1v1h-1zM265 215h1v1h-1zM259 216h1v1h-1zM265 216h1v1h-1zM259 217h1v1h-1zM265 217h1v1h-1zM259 218h1v1h-1zM265 218h1v1h-1zM259 219h7v1h-7zM265 150h7v1h-7zM265 151h1v1h-1zM271 151h1v1h-1zM265 152h1v1h-1zM271 152h1v1h-1zM265 153h1v1h-1zM271 153h1v1h-1zM265 154h1v1h-1zM271 154h1v1h-1zM265 155h1v1h-1zM271 155h1v1h-1zM265 156h7v1h-7zM272 247h7v1h-7zM272 248h1v1h-1zM278 248h1v1h-1zM272 249h1v1h-1zM278 249h1v1h-1zM272 250h1v1h-1zM278 250h1v1h-1zM272 251h1v1h-1zM278 251h1v1h-1zM272 252h1v1h-1zM278 252h1v1h-1zM272 253h7v1h-7zM278 221h7v1h-7zM278 222h1v1h-1zM284 222h1v1h-1zM278 223h1v1h-1zM284 223h1v1h-1zM278 224h1v1h-1zM284 224h1v1h-1zM278 225h1v1h-1zM284 225h1v1h-1zM278 226h1v1h-1zM284 226h1v1h-1zM278 227h7v1h-7zM283 250h7v1h-7zM283 251h1v1h-1zM289 251h1v1h-1zM283 252h1v1h-1zM289 252h1v1h-1zM283 253h1v1h-1zM289 253h1v1h-1zM283 254h1v1h-1zM289 254h1v1h-1zM283 255h1v1h-1zM289 255h1v1h-1zM283 256h7v1h-7zM290 245h7v1h-7zM290 246h1v1h-1zM296 246h1v1h-1zM290 247h1v1h-1zM296 247h1v1h-1zM290 248h1v1h-1zM296 248h1v1h-1zM290 249h1v1h-1zM296 249h1v1h-1zM290 250h1v1h-1zM296 250h1v1h-1zM290 251h7v1h-7zM297 222h7v1h-7zM297 223h1v1h-1zM303 223h1v1h-1zM297 224h1v1h-1zM303 224h1v1h-1zM297 225h1v1h-1zM303 225h1v1h-1zM297 226h1v1h-1zM303 226h1v1h-1zM297 227h1v1h-1zM303 227h1v1h-1zM297 228h7v1h-7zM303 215h7v1h-7zM303 216h1v1h-1zM309 216h1v1h-1zM303 217h1v1h-1zM309 217h1v1h-1zM303 218h1v1h-1zM309 218h1v1h-1zM303 219h1v1h-1zM309 219h1v1h-1zM303 220h1v1h-1zM309 220h1v1h-1zM303 221h7v1h-7zM309 243h7v1h-7zM309 244h1v1h-1zM315 244h1v1h-1zM309 245h1v1h-1zM315 245h1v1h-1zM309 246h1v1h-1zM315 246h1v1h-1zM309 247h1v1h-1zM315 247h1v1h-1zM309 248h1v1h-1zM315 248h1v1h-1zM309 249h7v1h-7zM315 209h7v1h-7zM315 210h1v1h-1zM321 210h1v1h-1zM315 211h1v1h-1zM321 211h1v1h-1zM315 212h1v1h-1zM321 212h1v1h-1zM315 213h1v1h-1zM321 213h1v1h-1zM315 214h1v1h-1zM321 214h1v1h-1zM315 215h7v1h-7zM322 182h7v1h-7zM322 183h1v1h-1zM328 183h1v1h-1zM322 184h1v1h-1zM328 184h1v1h-1zM322 185h1v1h-1zM328 185h1v1h-1zM322 186h1v1h-1zM328 186h1v1h-1zM322 187h1v1h-1zM328 187h1v1h-1zM322 188h7v1h-7zM328 149h7v1h-7zM328 150h1v1h-1zM334 150h1v1h-1zM328 151h1v1h-1zM334 151h1v1h-1zM328 152h1v1h-1zM334 152h1v1h-1zM328 153h1v1h-1zM334 153h1v1h-1zM328 154h1v1h-1zM334 154h1v1h-1zM328 155h7v1h-7zM335 190h7v1h-7zM335 191h1v1h-1zM341 191h1v1h-1zM335 192h1v1h-1zM341 192h1v1h-1zM335 193h1v1h-1zM341 193h1v1h-1zM335 194h1v1h-1zM341 194h1v1h-1zM335 195h1v1h-1zM341 195h1v1h-1zM335 196h7v1h-7zM341 168h7v1h-7zM341 169h1v1h-1zM347 169h1v1h-1zM341 170h1v1h-1zM347 170h1v1h-1zM341 171h1v1h-1zM347 171h1v1h-1zM341 172h1v1h-1zM347 172h1v1h-1zM341 173h1v1h-1zM347 173h1v1h-1zM341 174h7v1h-7zM347 184h7v1h-7zM347 185h1v1h-1zM353 185h1v1h-1zM347 186h1v1h-1zM353 186h1v1h-1zM347 187h1v1h-1zM353 187h1v1h-1zM347 188h1v1h-1zM353 188h1v1h-1zM347 189h1v1h-1zM353 189h1v1h-1zM347 190h7v1h-7zM353 241h7v1h-7zM353 242h1v1h-1zM359 242h1v1h-1zM353 243h1v1h-1zM359 243h1v1h-1zM353 244h1v1h-1zM359 244h1v1h-1zM353 245h1v1h-1zM359 245h1v1h-1zM353 246h1v1h-1zM359 246h1v1h-1zM353 247h7v1h-7zM359 198h7v1h-7zM359 199h1v1h-1zM365 199h1v1h-1zM359 200h1v1h-1zM365 200h1v1h-1zM359 201h1v1h-1zM365 201h1v1h-1zM359 202h1v1h-1zM365 202h1v1h-1zM359 203h1v1h-1zM365 203h1v1h-1zM359 204h7v1h-7zM365 203h7v1h-7zM365 204h1v1h-1zM371 204h1v1h-1zM365 205h1v1h-1zM371 205h1v1h-1zM365 206h1v1h-1zM371 206h1v1h-1zM365 207h1v1h-1zM371 207h1v1h-1zM365 208h1v1h-1zM371 208h1v1h-1zM365 209h7v1h-7zM372 194h7v1h-7zM372 195h1v1h-1zM378 195h1v1h-1zM372 196h1v1h-1zM378 196h1v1h-1zM372 197h1v1h-1zM378 197h1v1h-1zM372 198h1v1h-1zM378 198h1v1h-1zM372 199h1v1h-1zM378 199h1v1h-1zM372 200h7v1h-7zM378 190h7v1h-7zM378 191h1v1h-1zM384 191h1v1h-1zM378 192h1v1h-1zM384 192h1v1h-1zM378 193h1v1h-1zM384 193h1v1h-1zM378 194h1v1h-1zM384 194h1v1h-1zM378 195h1v1h-1zM384 195h1v1h-1zM378 196h7v1h-7zM384 177h7v1h-7zM384 178h1v1h-1zM390 178h1v1h-1zM384 179h1v1h-1zM390 179h1v1h-1zM384 180h1v1h-1zM390 180h1v1h-1zM384 181h1v1h-1zM390 181h1v1h-1zM384 182h1v1h-1zM390 182h1v1h-1zM384 183h7v1h-7zM391 232h7v1h-7zM391 233h1v1h-1zM397 233h1v1h-1zM391 234h1v1h-1zM397 234h1v1h-1zM391 235h1v1h-1zM397 235h1v1h-1zM391 236h1v1h-1zM397 236h1v1h-1zM391 237h1v1h-1zM397 237h1v1h-1zM391 238h7v1h-7zM397 201h7v1h-7zM397 202h1v1h-1zM403 202h1v1h-1zM397 203h1v1h-1zM403 203h1v1h-1zM397 204h1v1h-1zM403 204h1v1h-1zM397 205h1v1h-1zM403 205h1v1h-1zM397 206h1v1h-1zM403 206h1v1h-1zM397 207h7v1h-7zM403 213h7v1h-7zM403 214h1v1h-1zM409 214h1v1h-1zM403 215h1v1h-1zM409 215h1v1h-1zM403 216h1v1h-1zM409 216h1v1h-1zM403 217h1v1h-1zM409 217h1v1h-1zM403 218h1v1h-1zM409 218h1v1h-1zM403 219h7v1h-7zM410 190h7v1h-7zM410 191h1v1h-1zM416 191h1v1h-1zM410 192h1v1h-1zM416 192h1v1h-1zM410 193h1v1h-1zM416 193h1v1h-1zM410 194h1v1h-1zM416 194h1v1h-1zM410 195h1v1h-1zM416 195h1v1h-1zM410 196h7v1h-7zM416 189h7v1h-7zM416 190h1v1h-1zM422 190h1v1h-1zM416 191h1v1h-1zM422 191h1v1h-1zM416 192h1v1h-1zM422 192h1v1h-1zM416 193h1v1h-1zM422 193h1v1h-1zM416 194h1v1h-1zM422 194h1v1h-1zM416 195h7v1h-7zM422 241h7v1h-7zM422 242h1v1h-1zM428 242h1v1h-1zM422 243h1v1h-1zM428 243h1v1h-1zM422 244h1v1h-1zM428 244h1v1h-1zM422 245h1v1h-1zM428 245h1v1h-1zM422 246h1v1h-1zM428 246h1v1h-1zM422 247h7v1h-7zM428 228h7v1h-7zM428 229h1v1h-1zM434 229h1v1h-1zM428 230h1v1h-1zM434 230h1v1h-1zM428 231h1v1h-1zM434 231h1v1h-1zM428 232h1v1h-1zM434 232h1v1h-1zM428 233h1v1h-1zM434 233h1v1h-1zM428 234h7v1h-7zM441 263h7v1h-7zM441 264h1v1h-1zM447 264h1v1h-1zM441 265h1v1h-1zM447 265h1v1h-1zM441 266h1v1h-1zM447 266h1v1h-1zM441 267h1v1h-1zM447 267h1v1h-1zM441 268h1v1h-1zM447 268h1v1h-1zM441 269h7v1h-7zM447 258h7v1h-7zM447 259h1v1h-1zM453 259h1v1h-1zM447 260h1v1h-1zM453 260h1v1h-1zM447 261h1v1h-1zM453 261h1v1h-1zM447 262h1v1h-1zM453 262h1v1h-1zM447 263h1v1h-1zM453 263h1v1h-1zM447 264h7v1h-7zM453 165h7v1h-7zM453 166h1v1h-1zM459 166h1v1h-1zM453 167h1v1h-1zM459 167h1v1h-1zM453 168h1v1h-1zM459 168h1v1h-1zM453 169h1v1h-1zM459 169h1v1h-1zM453 170h1v1h-1zM459 170h1v1h-1zM453 171h7v1h-7zM455 258h7v1h-7zM455 259h1v1h-1zM461 259h1v1h-1zM455 260h1v1h-1zM461 260h1v1h-1zM455 261h1v1h-1zM461 261h1v1h-1zM455 262h1v1h-1zM461 262h1v1h-1zM455 263h1v1h-1zM461 263h1v1h-1zM455 264h7v1h-7zM461 435h7v1h-7zM461 436h1v1h-1zM467 436h1v1h-1zM461 437h1v1h-1zM467 437h1v1h-1zM461 438h1v1h-1zM467 438h1v1h-1zM461 439h1v1h-1zM467 439h1v1h-1zM461 440h1v1h-1zM467 440h1v1h-1zM461 441h7v1h-7zM467 310h7v1h-7zM467 311h1v1h-1zM473 311h1v1h-1zM467 312h1v1h-1zM473 312h1v1h-1zM467 313h1v1h-1zM473 313h1v1h-1zM467 314h1v1h-1zM473 314h1v1h-1zM467 315h1v1h-1zM473 315h1v1h-1zM467 316h7v1h-7zM473 273h7v1h-7zM473 274h1v1h-1zM479 274h1v1h-1zM473 275h1v1h-1zM479 275h1v1h-1zM473 276h1v1h-1zM479 276h1v1h-1zM473 277h1v1h-1zM479 277h1v1h-1zM473 278h1v1h-1zM479 278h1v1h-1zM473 279h7v1h-7zM480 259h7v1h-7zM480 260h1v1h-1zM486 260h1v1h-1zM480 261h1v1h-1zM486 261h1v1h-1zM480 262h1v1h-1zM486 262h1v1h-1zM480 263h1v1h-1zM486 263h1v1h-1zM480 264h1v1h-1zM486 264h1v1h-1zM480 265h7v1h-7zM483 390h7v1h-7zM483 391h1v1h-1zM489 391h1v1h-1zM483 392h1v1h-1zM489 392h1v1h-1zM483 393h1v1h-1zM489 393h1v1h-1zM483 394h1v1h-1zM489 394h1v1h-1zM483 395h1v1h-1zM489 395h1v1h-1zM483 396h7v1h-7zM489 178h7v1h-7zM489 179h1v1h-1zM495 179h1v1h-1zM489 180h1v1h-1zM495 180h1v1h-1zM489 181h1v1h-1zM495 181h1v1h-1zM489 182h1v1h-1zM495 182h1v1h-1zM489 183h1v1h-1zM495 183h1v1h-1zM489 184h7v1h-7zM495 368h7v1h-7zM495 369h1v1h-1zM501 369h1v1h-1zM495 370h1v1h-1zM501 370h1v1h-1zM495 371h1v1h-1zM501 371h1v1h-1zM495 372h1v1h-1zM501 372h1v1h-1zM495 373h1v1h-1zM501 373h1v1h-1zM495 374h7v1h-7zM501 354h7v1h-7zM501 355h1v1h-1zM507 355h1v1h-1zM501 356h1v1h-1zM507 356h1v1h-1zM501 357h1v1h-1zM507 357h1v1h-1zM501 358h1v1h-1zM507 358h1v1h-1zM501 359h1v1h-1zM507 359h1v1h-1zM501 360h7v1h-7zM508 292h7v1h-7zM508 293h1v1h-1zM514 293h1v1h-1zM508 294h1v1h-1zM514 294h1v1h-1zM508 295h1v1h-1zM514 295h1v1h-1zM508 296h1v1h-1zM514 296h1v1h-1zM508 297h1v1h-1zM514 297h1v1h-1zM508 298h7v1h-7zM516 279h7v1h-7zM516 280h1v1h-1zM522 280h1v1h-1zM516 281h1v1h-1zM522 281h1v1h-1zM516 282h1v1h-1zM522 282h1v1h-1zM516 283h1v1h-1zM522 283h1v1h-1zM516 284h1v1h-1zM522 284h1v1h-1zM516 285h7v1h-7zM521 394h7v1h-7zM521 395h1v1h-1zM527 395h1v1h-1zM521 396h1v1h-1zM527 396h1v1h-1zM521 397h1v1h-1zM527 397h1v1h-1zM521 398h1v1h-1zM527 398h1v1h-1zM521 399h1v1h-1zM527 399h1v1h-1zM521 400h7v1h-7zM527 394h7v1h-7zM527 395h1v1h-1zM533 395h1v1h-1zM527 396h1v1h-1zM533 396h1v1h-1zM527 397h1v1h-1zM533 397h1v1h-1zM527 398h1v1h-1zM533 398h1v1h-1zM527 399h1v1h-1zM533 399h1v1h-1zM527 400h7v1h-7zM533 394h7v1h-7zM533 395h1v1h-1zM539 395h1v1h-1zM533 396h1v1h-1zM539 396h1v1h-1zM533 397h1v1h-1zM539 397h1v1h-1zM533 398h1v1h-1zM539 398h1v1h-1zM533 399h1v1h-1zM539 399h1v1h-1zM533 400h7v1h-7zM539 394h7v1h-7zM539 395h1v1h-1zM545 395h1v1h-1zM539 396h1v1h-1zM545 396h1v1h-1zM539 397h1v1h-1zM545 397h1v1h-1zM539 398h1v1h-1zM545 398h1v1h-1zM539 399h1v1h-1zM545 399h1v1h-1zM539 400h7v1h-7zM542 394h7v1h-7zM542 395h1v1h-1zM548 395h1v1h-1zM542 396h1v1h-1zM548 396h1v1h-1zM542 397h1v1h-1zM548 397h1v1h-1zM542 398h1v1h-1zM548 398h1v1h-1zM542 399h1v1h-1zM548 399h1v1h-1zM542 400h7v1h-7zM548 304h7v1h-7zM548 305h1v1h-1zM554 305h1v1h-1zM548 306h1v1h-1zM554 306h1v1h-1zM548 307h1v1h-1zM554 307h1v1h-1zM548 308h1v1h-1zM554 308h1v1h-1zM548 309h1v1h-1zM554 309h1v1h-1zM548 310h7v1h-7zM549 361h7v1h-7zM549 362h1v1h-1zM555 362h1v1h-1zM549 363h1v1h-1zM555 363h1v1h-1zM549 364h1v1h-1zM555 364h1v1h-1zM549 365h1v1h-1zM555 365h1v1h-1zM549 366h1v1h-1zM555 366h1v1h-1zM549 367h7v1h-7zM554 279h7v1h-7zM554 280h1v1h-1zM560 280h1v1h-1zM554 281h1v1h-1zM560 281h1v1h-1zM554 282h1v1h-1zM560 282h1v1h-1zM554 283h1v1h-1zM560 283h1v1h-1zM554 284h1v1h-1zM560 284h1v1h-1zM554 285h7v1h-7zM560 394h7v1h-7zM560 395h1v1h-1zM566 395h1v1h-1zM560 396h1v1h-1zM566 396h1v1h-1zM560 397h1v1h-1zM566 397h1v1h-1zM560 398h1v1h-1zM566 398h1v1h-1zM560 399h1v1h-1zM566 399h1v1h-1zM560 400h7v1h-7zM566 394h7v1h-7zM566 395h1v1h-1zM572 395h1v1h-1zM566 396h1v1h-1zM572 396h1v1h-1zM566 397h1v1h-1zM572 397h1v1h-1zM566 398h1v1h-1zM572 398h1v1h-1zM566 399h1v1h-1zM572 399h1v1h-1zM566 400h7v1h-7z" fill="#ff0000"/>
</g>
<rect x="60.5" y="69.5" width="562" height="392" fill="none" stroke="#000"/>
<path d="M97.5 461v-8M97.5 70v8M135.5 461v-8M135.5 70v8M172.5 461v-8M172.5 70v8M210.5 461v-8M210.5 70v8M247.5 461v-8M247.5 70v8M285.5 461v-8M285.5 70v8M322.5 461v-8M322.5 70v8M360.5 461v-8M360.5 70v8M397.5 461v-8M397.5 70v8M435.5 461v-8M435.5 70v8M472.5 461v-8M472.5 70v8M510.5 461v-8M510.5 70v8M547.5 461v-8M547.5 70v8M585.5 461v-8M585.5 70v8M61 200.5h11M622 200.5h-11M61 330.5h11M622 330.5h-11" stroke="#000"/>
<text x="57.2" y="477" font-size="11.5" textLength="6.6" lengthAdjust="spacingAndGlyphs">5</text>
<text x="94.7" y="477" font-size="11.5" textLength="6.6" lengthAdjust="spacingAndGlyphs">6</text>
<text x="132.1" y="477" font-size="11.5" textLength="6.6" lengthAdjust="spacingAndGlyphs">7</text>
<text x="169.6" y="477" font-size="11.5" textLength="6.6" lengthAdjust="spacingAndGlyphs">8</text>
<text x="207.1" y="477" font-size="11.5" textLength="6.6" lengthAdjust="spacingAndGlyphs">9</text>
<text x="242.0" y="477" font-size="11.5" textLength="11.6" lengthAdjust="spacingAndGlyphs">10</text>
<text x="279.5" y="477" font-size="11.5" textLength="11.6" lengthAdjust="spacingAndGlyphs">11</text>
<text x="317.0" y="477" font-size="11.5" textLength="11.6" lengthAdjust="spacingAndGlyphs">12</text>
<text x="354.4" y="477" font-size="11.5" textLength="11.6" lengthAdjust="spacingAndGlyphs">13</text>
<text x="391.9" y="477" font-size="11.5" textLength="11.6" lengthAdjust="spacingAndGlyphs">14</text>
<text x="429.4" y="477" font-size="11.5" textLength="11.6" lengthAdjust="spacingAndGlyphs">15</text>
<text x="466.8" y="477" font-size="11.5" textLength="11.6" lengthAdjust="spacingAndGlyphs">16</text>
<text x="504.3" y="477" font-size="11.5" textLength="11.6" lengthAdjust="spacingAndGlyphs">17</text>
<text x="541.8" y="477" font-size="11.5" textLength="11.6" lengthAdjust="spacingAndGlyphs">18</text>
<text x="579.2" y="477" font-size="11.5" textLength="11.6" lengthAdjust="spacingAndGlyphs">19</text>
<text x="616.7" y="477" font-size="11.5" textLength="11.6" lengthAdjust="spacingAndGlyphs">20</text>
<text x="23" y="77" font-size="11.5" textLength="34" lengthAdjust="spacingAndGlyphs">0.1000</text>
<text x="23" y="205" font-size="11.5" textLength="34" lengthAdjust="spacingAndGlyphs">0.0100</text>
<text x="23" y="335" font-size="11.5" textLength="34" lengthAdjust="spacingAndGlyphs">0.0010</text>
<text x="23" y="462" font-size="11.5" textLength="34" lengthAdjust="spacingAndGlyphs">0.0001</text>
<text x="313" y="490" font-size="11.5" textLength="56.2" lengthAdjust="spacingAndGlyphs">Time (GMT)</text>
<text transform="translate(15 352) rotate(-90)" x="0" y="0" font-size="11" textLength="172.5" lengthAdjust="spacingAndGlyphs">Imaginary Part of Refractive Index</text>
</svg></body></html>
